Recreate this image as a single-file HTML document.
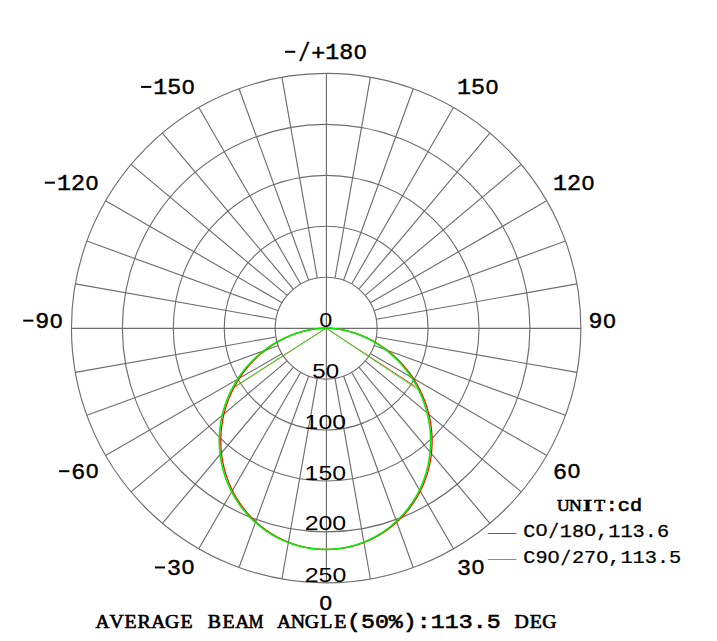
<!DOCTYPE html><html><head><meta charset="utf-8"><style>html,body{margin:0;padding:0;background:#fff;overflow:hidden}svg{display:block}</style></head><body>
<svg width="717" height="641" viewBox="0 0 717 641">
<rect width="717" height="641" fill="#fff"/>
<g fill="none" stroke="#6e6e6e" stroke-width="1.15"><circle cx="326.15" cy="328.15" r="50.94"/><circle cx="326.15" cy="328.15" r="101.88"/><circle cx="326.15" cy="328.15" r="152.82"/><circle cx="326.15" cy="328.15" r="203.76"/><circle cx="326.15" cy="328.15" r="254.70"/><line x1="326.40" y1="582.85" x2="326.40" y2="73.45"/><line x1="335.00" y1="378.32" x2="370.38" y2="578.98"/><line x1="343.57" y1="376.02" x2="413.26" y2="567.49"/><line x1="351.62" y1="372.27" x2="453.50" y2="548.73"/><line x1="358.89" y1="367.17" x2="489.87" y2="523.26"/><line x1="365.17" y1="360.89" x2="521.26" y2="491.87"/><line x1="370.27" y1="353.62" x2="546.73" y2="455.50"/><line x1="374.02" y1="345.57" x2="565.49" y2="415.26"/><line x1="376.32" y1="337.00" x2="576.98" y2="372.38"/><line x1="71.45" y1="328.30" x2="580.85" y2="328.30"/><line x1="376.32" y1="319.30" x2="576.98" y2="283.92"/><line x1="374.02" y1="310.73" x2="565.49" y2="241.04"/><line x1="370.27" y1="302.68" x2="546.73" y2="200.80"/><line x1="365.17" y1="295.41" x2="521.26" y2="164.43"/><line x1="358.89" y1="289.13" x2="489.87" y2="133.04"/><line x1="351.62" y1="284.03" x2="453.50" y2="107.57"/><line x1="343.57" y1="280.28" x2="413.26" y2="88.81"/><line x1="335.00" y1="277.98" x2="370.38" y2="77.32"/><line x1="317.30" y1="277.98" x2="281.92" y2="77.32"/><line x1="308.73" y1="280.28" x2="239.04" y2="88.81"/><line x1="300.68" y1="284.03" x2="198.80" y2="107.57"/><line x1="293.41" y1="289.13" x2="162.43" y2="133.04"/><line x1="287.13" y1="295.41" x2="131.04" y2="164.43"/><line x1="282.03" y1="302.68" x2="105.57" y2="200.80"/><line x1="278.28" y1="310.73" x2="86.81" y2="241.04"/><line x1="275.98" y1="319.30" x2="75.32" y2="283.92"/><line x1="275.98" y1="337.00" x2="75.32" y2="372.38"/><line x1="278.28" y1="345.57" x2="86.81" y2="415.26"/><line x1="282.03" y1="353.62" x2="105.57" y2="455.50"/><line x1="287.13" y1="360.89" x2="131.04" y2="491.87"/><line x1="293.41" y1="367.17" x2="162.43" y2="523.26"/><line x1="300.68" y1="372.27" x2="198.80" y2="548.73"/><line x1="308.73" y1="376.02" x2="239.04" y2="567.49"/><line x1="317.30" y1="378.32" x2="281.92" y2="578.98"/></g>
<path d="M326.15 328.15 L325.99 328.15 L325.80 328.15 L325.60 328.15 L325.38 328.16 L325.16 328.16 L324.93 328.16 L324.70 328.17 L324.46 328.17 L324.21 328.18 L323.97 328.19 L323.72 328.20 L323.46 328.21 L323.21 328.22 L322.95 328.23 L322.69 328.24 L322.42 328.25 L322.16 328.27 L321.89 328.28 L321.62 328.30 L321.34 328.32 L321.07 328.34 L320.79 328.36 L320.52 328.38 L320.24 328.40 L319.95 328.42 L319.67 328.44 L319.39 328.47 L319.10 328.49 L318.82 328.52 L318.53 328.55 L318.24 328.58 L317.95 328.61 L317.66 328.64 L317.36 328.67 L317.07 328.71 L316.77 328.74 L316.48 328.78 L316.18 328.81 L315.88 328.85 L315.58 328.89 L315.29 328.93 L314.98 328.97 L314.68 329.01 L314.38 329.06 L314.08 329.10 L313.77 329.15 L313.47 329.19 L313.16 329.24 L312.86 329.29 L312.55 329.34 L312.24 329.39 L311.93 329.44 L311.63 329.50 L311.32 329.55 L311.01 329.61 L310.70 329.67 L310.38 329.72 L310.07 329.78 L309.76 329.84 L309.45 329.91 L309.13 329.97 L308.82 330.03 L308.51 330.10 L308.19 330.16 L307.88 330.23 L307.56 330.30 L307.24 330.37 L306.93 330.44 L306.61 330.51 L306.29 330.59 L305.97 330.66 L305.66 330.74 L305.34 330.82 L305.02 330.89 L304.70 330.97 L304.38 331.05 L304.06 331.14 L303.74 331.22 L303.42 331.30 L303.10 331.39 L302.78 331.48 L302.46 331.56 L302.14 331.65 L301.82 331.74 L301.49 331.83 L301.17 331.93 L300.85 332.02 L300.53 332.12 L300.21 332.21 L299.88 332.31 L299.56 332.41 L299.24 332.51 L298.91 332.61 L298.59 332.71 L298.27 332.82 L297.94 332.92 L297.62 333.03 L297.30 333.13 L296.97 333.24 L296.65 333.35 L296.32 333.46 L296.00 333.57 L295.68 333.69 L295.35 333.80 L295.03 333.92 L294.70 334.03 L294.38 334.15 L294.06 334.27 L293.73 334.39 L293.41 334.51 L293.08 334.64 L292.76 334.76 L292.44 334.89 L292.11 335.01 L291.79 335.14 L291.46 335.27 L291.14 335.40 L290.82 335.53 L290.49 335.66 L290.17 335.80 L289.85 335.93 L289.52 336.07 L289.20 336.21 L288.88 336.35 L288.55 336.48 L288.23 336.63 L287.91 336.77 L287.59 336.91 L287.26 337.06 L286.94 337.20 L286.62 337.35 L286.30 337.50 L285.97 337.65 L285.65 337.80 L285.33 337.95 L285.01 338.10 L284.69 338.26 L284.37 338.41 L284.05 338.57 L283.73 338.73 L283.41 338.89 L283.09 339.05 L282.77 339.21 L282.45 339.37 L282.13 339.53 L281.81 339.70 L281.49 339.87 L281.18 340.03 L280.86 340.20 L280.54 340.37 L280.22 340.54 L279.91 340.71 L279.59 340.89 L279.27 341.06 L278.96 341.24 L278.64 341.41 L278.33 341.59 L278.01 341.77 L277.70 341.95 L277.38 342.13 L277.07 342.32 L276.75 342.50 L276.44 342.69 L276.13 342.87 L275.82 343.06 L275.50 343.25 L275.19 343.44 L274.88 343.63 L274.57 343.82 L274.26 344.01 L273.95 344.21 L273.64 344.40 L273.33 344.60 L273.02 344.80 L272.72 345.00 L272.41 345.20 L272.10 345.40 L271.79 345.60 L271.49 345.81 L271.18 346.01 L270.88 346.22 L270.57 346.42 L270.27 346.63 L269.96 346.84 L269.66 347.05 L269.36 347.26 L269.06 347.48 L268.75 347.69 L268.45 347.90 L268.15 348.12 L267.85 348.34 L267.55 348.56 L267.25 348.78 L266.95 349.00 L266.66 349.22 L266.36 349.44 L266.06 349.66 L265.77 349.89 L265.47 350.12 L265.18 350.34 L264.88 350.57 L264.59 350.80 L264.29 351.03 L264.00 351.26 L263.71 351.50 L263.42 351.73 L263.13 351.96 L262.84 352.20 L262.55 352.44 L262.26 352.68 L261.97 352.91 L261.68 353.16 L261.40 353.40 L261.11 353.64 L260.82 353.88 L260.54 354.13 L260.25 354.37 L259.97 354.62 L259.69 354.87 L259.41 355.12 L259.12 355.37 L258.84 355.62 L258.56 355.87 L258.28 356.12 L258.01 356.38 L257.73 356.63 L257.45 356.89 L257.17 357.14 L256.90 357.40 L256.62 357.66 L256.35 357.92 L256.08 358.18 L255.80 358.45 L255.53 358.71 L255.26 358.97 L254.99 359.24 L254.72 359.51 L254.45 359.77 L254.18 360.04 L253.92 360.31 L253.65 360.58 L253.38 360.85 L253.12 361.12 L252.86 361.40 L252.59 361.67 L252.33 361.95 L252.07 362.22 L251.81 362.50 L251.55 362.78 L251.29 363.06 L251.03 363.34 L250.77 363.62 L250.52 363.90 L250.26 364.19 L250.01 364.47 L249.75 364.75 L249.50 365.04 L249.25 365.33 L248.99 365.61 L248.74 365.90 L248.49 366.19 L248.25 366.48 L248.00 366.78 L247.75 367.07 L247.50 367.36 L247.26 367.66 L247.01 367.95 L246.77 368.25 L246.53 368.54 L246.29 368.84 L246.05 369.14 L245.81 369.44 L245.57 369.74 L245.33 370.04 L245.09 370.35 L244.86 370.65 L244.62 370.95 L244.39 371.26 L244.16 371.56 L243.92 371.87 L243.69 372.18 L243.46 372.49 L243.23 372.80 L243.00 373.11 L242.78 373.42 L242.55 373.73 L242.33 374.04 L242.10 374.36 L241.88 374.67 L241.66 374.99 L241.43 375.30 L241.21 375.62 L240.99 375.94 L240.78 376.26 L240.56 376.58 L240.34 376.90 L240.13 377.22 L239.91 377.54 L239.70 377.86 L239.49 378.18 L239.28 378.51 L239.07 378.83 L238.86 379.16 L238.65 379.49 L238.44 379.81 L238.24 380.14 L238.03 380.47 L237.83 380.80 L237.63 381.13 L237.42 381.46 L237.22 381.79 L237.02 382.13 L236.83 382.46 L236.63 382.79 L236.43 383.13 L236.24 383.47 L236.04 383.80 L235.85 384.14 L235.66 384.48 L235.47 384.81 L235.28 385.15 L235.09 385.49 L234.90 385.83 L234.72 386.18 L234.53 386.52 L234.35 386.86 L234.16 387.20 L233.98 387.55 L233.80 387.89 L233.62 388.24 L233.44 388.59 L233.27 388.93 L233.09 389.28 L232.91 389.63 L232.74 389.98 L232.57 390.33 L232.40 390.68 L232.23 391.03 L232.06 391.38 L231.89 391.73 L231.72 392.08 L231.56 392.44 L231.39 392.79 L231.23 393.14 L231.07 393.50 L230.91 393.86 L230.75 394.21 L230.59 394.57 L230.43 394.93 L230.27 395.28 L230.12 395.64 L229.96 396.00 L229.81 396.36 L229.66 396.72 L229.51 397.08 L229.36 397.44 L229.21 397.81 L229.07 398.17 L228.92 398.53 L228.78 398.90 L228.63 399.26 L228.49 399.63 L228.35 399.99 L228.21 400.36 L228.07 400.72 L227.94 401.09 L227.80 401.46 L227.67 401.82 L227.53 402.19 L227.40 402.56 L227.27 402.93 L227.14 403.30 L227.01 403.67 L226.89 404.04 L226.76 404.41 L226.64 404.79 L226.51 405.16 L226.39 405.53 L226.27 405.90 L226.15 406.28 L226.03 406.65 L225.92 407.03 L225.80 407.40 L225.69 407.78 L225.57 408.15 L225.46 408.53 L225.35 408.90 L225.24 409.28 L225.13 409.66 L225.03 410.04 L224.92 410.42 L224.82 410.79 L224.72 411.17 L224.61 411.55 L224.51 411.93 L224.42 412.31 L224.32 412.69 L224.22 413.07 L224.13 413.46 L224.03 413.84 L223.94 414.22 L223.85 414.60 L223.76 414.98 L223.67 415.37 L223.58 415.75 L223.50 416.13 L223.41 416.52 L223.33 416.90 L223.25 417.29 L223.17 417.67 L223.09 418.06 L223.01 418.44 L222.93 418.83 L222.86 419.21 L222.78 419.60 L222.71 419.99 L222.64 420.37 L222.57 420.76 L222.50 421.15 L222.43 421.54 L222.37 421.92 L222.30 422.31 L222.24 422.70 L222.18 423.09 L222.12 423.48 L222.06 423.87 L222.00 424.26 L221.94 424.65 L221.89 425.04 L221.83 425.43 L221.78 425.82 L221.73 426.21 L221.68 426.60 L221.63 426.99 L221.58 427.38 L221.54 427.77 L221.49 428.16 L221.45 428.55 L221.41 428.94 L221.37 429.34 L221.33 429.73 L221.29 430.12 L221.26 430.51 L221.22 430.90 L221.19 431.30 L221.15 431.69 L221.12 432.08 L221.09 432.48 L221.07 432.87 L221.04 433.26 L221.01 433.65 L220.99 434.05 L220.97 434.44 L220.94 434.83 L220.92 435.23 L220.91 435.62 L220.89 436.02 L220.87 436.41 L220.86 436.80 L220.84 437.20 L220.83 437.59 L220.82 437.98 L220.81 438.38 L220.81 438.77 L220.80 439.17 L220.79 439.56 L220.79 439.95 L220.79 440.35 L220.79 440.74 L220.79 441.14 L220.79 441.53 L220.79 441.93 L220.80 442.32 L220.80 442.71 L220.81 443.11 L220.82 443.50 L220.83 443.90 L220.84 444.29 L220.85 444.68 L220.87 445.08 L220.88 445.47 L220.90 445.86 L220.92 446.26 L220.94 446.65 L220.96 447.05 L220.98 447.44 L221.01 447.83 L221.03 448.23 L221.06 448.62 L221.09 449.01 L221.12 449.40 L221.15 449.80 L221.18 450.19 L221.21 450.58 L221.25 450.98 L221.28 451.37 L221.32 451.76 L221.36 452.15 L221.40 452.54 L221.44 452.94 L221.48 453.33 L221.53 453.72 L221.58 454.11 L221.62 454.50 L221.67 454.89 L221.72 455.28 L221.77 455.67 L221.83 456.06 L221.88 456.46 L221.93 456.85 L221.99 457.24 L222.05 457.62 L222.11 458.01 L222.17 458.40 L222.23 458.79 L222.30 459.18 L222.36 459.57 L222.43 459.96 L222.50 460.35 L222.56 460.73 L222.63 461.12 L222.71 461.51 L222.78 461.90 L222.85 462.28 L222.93 462.67 L223.01 463.05 L223.09 463.44 L223.17 463.83 L223.25 464.21 L223.33 464.60 L223.41 464.98 L223.50 465.36 L223.59 465.75 L223.68 466.13 L223.76 466.52 L223.86 466.90 L223.95 467.28 L224.04 467.66 L224.14 468.05 L224.23 468.43 L224.33 468.81 L224.43 469.19 L224.53 469.57 L224.63 469.95 L224.73 470.33 L224.84 470.71 L224.94 471.09 L225.05 471.47 L225.16 471.85 L225.27 472.22 L225.38 472.60 L225.49 472.98 L225.61 473.35 L225.72 473.73 L225.84 474.11 L225.95 474.48 L226.07 474.86 L226.19 475.23 L226.32 475.60 L226.44 475.98 L226.56 476.35 L226.69 476.72 L226.82 477.10 L226.94 477.47 L227.07 477.84 L227.20 478.21 L227.34 478.58 L227.47 478.95 L227.60 479.32 L227.74 479.69 L227.88 480.06 L228.02 480.42 L228.16 480.79 L228.30 481.16 L228.44 481.52 L228.58 481.89 L228.73 482.25 L228.88 482.62 L229.02 482.98 L229.17 483.35 L229.32 483.71 L229.47 484.07 L229.63 484.43 L229.78 484.79 L229.94 485.15 L230.09 485.51 L230.25 485.87 L230.41 486.23 L230.57 486.59 L230.73 486.95 L230.90 487.31 L231.06 487.66 L231.23 488.02 L231.39 488.37 L231.56 488.73 L231.73 489.08 L231.90 489.43 L232.07 489.79 L232.25 490.14 L232.42 490.49 L232.60 490.84 L232.78 491.19 L232.95 491.54 L233.13 491.89 L233.31 492.24 L233.50 492.59 L233.68 492.93 L233.86 493.28 L234.05 493.62 L234.24 493.97 L234.42 494.31 L234.61 494.66 L234.80 495.00 L235.00 495.34 L235.19 495.68 L235.38 496.02 L235.58 496.36 L235.77 496.70 L235.97 497.04 L236.17 497.38 L236.37 497.71 L236.57 498.05 L236.78 498.38 L236.98 498.72 L237.18 499.05 L237.39 499.38 L237.60 499.72 L237.81 500.05 L238.02 500.38 L238.23 500.71 L238.44 501.04 L238.65 501.37 L238.87 501.69 L239.08 502.02 L239.30 502.35 L239.52 502.67 L239.74 503.00 L239.96 503.32 L240.18 503.64 L240.40 503.96 L240.62 504.28 L240.85 504.60 L241.07 504.92 L241.30 505.24 L241.53 505.56 L241.76 505.88 L241.99 506.19 L242.22 506.51 L242.45 506.82 L242.69 507.14 L242.92 507.45 L243.16 507.76 L243.40 508.07 L243.63 508.38 L243.87 508.69 L244.11 509.00 L244.36 509.30 L244.60 509.61 L244.84 509.91 L245.09 510.22 L245.33 510.52 L245.58 510.83 L245.83 511.13 L246.08 511.43 L246.33 511.73 L246.58 512.03 L246.83 512.32 L247.09 512.62 L247.34 512.92 L247.60 513.21 L247.85 513.51 L248.11 513.80 L248.37 514.09 L248.63 514.38 L248.89 514.67 L249.15 514.96 L249.41 515.25 L249.68 515.54 L249.94 515.82 L250.21 516.11 L250.48 516.39 L250.74 516.68 L251.01 516.96 L251.28 517.24 L251.55 517.52 L251.83 517.80 L252.10 518.08 L252.37 518.36 L252.65 518.63 L252.92 518.91 L253.20 519.18 L253.48 519.46 L253.76 519.73 L254.04 520.00 L254.32 520.27 L254.60 520.54 L254.88 520.81 L255.17 521.07 L255.45 521.34 L255.74 521.60 L256.03 521.87 L256.31 522.13 L256.60 522.39 L256.89 522.65 L257.18 522.91 L257.47 523.17 L257.76 523.43 L258.06 523.68 L258.35 523.94 L258.65 524.19 L258.94 524.44 L259.24 524.70 L259.54 524.95 L259.84 525.20 L260.14 525.45 L260.44 525.69 L260.74 525.94 L261.04 526.18 L261.34 526.43 L261.65 526.67 L261.95 526.91 L262.26 527.15 L262.56 527.39 L262.87 527.63 L263.18 527.87 L263.49 528.10 L263.80 528.34 L264.11 528.57 L264.42 528.80 L264.73 529.04 L265.05 529.27 L265.36 529.49 L265.68 529.72 L265.99 529.95 L266.31 530.17 L266.62 530.40 L266.94 530.62 L267.26 530.84 L267.58 531.06 L267.90 531.28 L268.22 531.50 L268.55 531.72 L268.87 531.94 L269.19 532.15 L269.52 532.36 L269.84 532.58 L270.17 532.79 L270.49 533.00 L270.82 533.21 L271.15 533.41 L271.48 533.62 L271.81 533.82 L272.14 534.03 L272.47 534.23 L272.80 534.43 L273.13 534.63 L273.47 534.83 L273.80 535.03 L274.14 535.22 L274.47 535.42 L274.81 535.61 L275.14 535.81 L275.48 536.00 L275.82 536.19 L276.16 536.38 L276.50 536.56 L276.84 536.75 L277.18 536.93 L277.52 537.12 L277.86 537.30 L278.21 537.48 L278.55 537.66 L278.89 537.84 L279.24 538.02 L279.58 538.19 L279.93 538.37 L280.28 538.54 L280.62 538.71 L280.97 538.88 L281.32 539.05 L281.67 539.22 L282.02 539.39 L282.37 539.56 L282.72 539.72 L283.07 539.88 L283.42 540.04 L283.78 540.20 L284.13 540.36 L284.48 540.52 L284.84 540.68 L285.19 540.83 L285.55 540.99 L285.91 541.14 L286.26 541.29 L286.62 541.44 L286.98 541.59 L287.33 541.74 L287.69 541.88 L288.05 542.03 L288.41 542.17 L288.77 542.31 L289.13 542.45 L289.50 542.59 L289.86 542.73 L290.22 542.86 L290.58 543.00 L290.95 543.13 L291.31 543.26 L291.67 543.40 L292.04 543.53 L292.40 543.65 L292.77 543.78 L293.13 543.91 L293.50 544.03 L293.87 544.15 L294.24 544.27 L294.60 544.39 L294.97 544.51 L295.34 544.63 L295.71 544.75 L296.08 544.86 L296.45 544.97 L296.82 545.09 L297.19 545.20 L297.56 545.30 L297.93 545.41 L298.30 545.52 L298.68 545.62 L299.05 545.73 L299.42 545.83 L299.80 545.93 L300.17 546.03 L300.54 546.13 L300.92 546.22 L301.29 546.32 L301.67 546.41 L302.04 546.50 L302.42 546.59 L302.80 546.68 L303.17 546.77 L303.55 546.86 L303.93 546.94 L304.30 547.03 L304.68 547.11 L305.06 547.19 L305.44 547.27 L305.82 547.35 L306.19 547.43 L306.57 547.50 L306.95 547.58 L307.33 547.65 L307.71 547.72 L308.09 547.79 L308.47 547.86 L308.85 547.92 L309.23 547.99 L309.62 548.05 L310.00 548.12 L310.38 548.18 L310.76 548.24 L311.14 548.29 L311.52 548.35 L311.91 548.41 L312.29 548.46 L312.67 548.51 L313.05 548.56 L313.44 548.61 L313.82 548.66 L314.20 548.71 L314.59 548.76 L314.97 548.80 L315.36 548.84 L315.74 548.88 L316.12 548.92 L316.51 548.96 L316.89 549.00 L317.28 549.03 L317.66 549.07 L318.05 549.10 L318.43 549.13 L318.82 549.16 L319.20 549.19 L319.59 549.22 L319.97 549.24 L320.36 549.26 L320.75 549.29 L321.13 549.31 L321.52 549.33 L321.90 549.35 L322.29 549.36 L322.67 549.38 L323.06 549.39 L323.45 549.40 L323.83 549.41 L324.22 549.42 L324.61 549.43 L324.99 549.44 L325.38 549.44 L325.76 549.45 L326.15 549.45 L326.54 549.45 L326.92 549.45 L327.31 549.45 L327.69 549.44 L328.08 549.44 L328.47 549.43 L328.85 549.43 L329.24 549.42 L329.63 549.41 L330.01 549.39 L330.40 549.38 L330.78 549.36 L331.17 549.35 L331.56 549.33 L331.94 549.31 L332.33 549.29 L332.71 549.27 L333.10 549.24 L333.48 549.22 L333.87 549.19 L334.25 549.16 L334.64 549.14 L335.02 549.10 L335.41 549.07 L335.79 549.04 L336.18 549.00 L336.56 548.97 L336.95 548.93 L337.33 548.89 L337.72 548.85 L338.10 548.81 L338.48 548.76 L338.87 548.72 L339.25 548.67 L339.63 548.62 L340.02 548.57 L340.40 548.52 L340.78 548.47 L341.17 548.41 L341.55 548.36 L341.93 548.30 L342.31 548.24 L342.69 548.19 L343.08 548.12 L343.46 548.06 L343.84 548.00 L344.22 547.93 L344.60 547.87 L344.98 547.80 L345.36 547.73 L345.74 547.66 L346.12 547.59 L346.50 547.51 L346.88 547.44 L347.26 547.36 L347.64 547.28 L348.01 547.20 L348.39 547.12 L348.77 547.04 L349.15 546.96 L349.52 546.87 L349.90 546.78 L350.28 546.70 L350.65 546.61 L351.03 546.52 L351.41 546.42 L351.78 546.33 L352.16 546.24 L352.53 546.14 L352.90 546.04 L353.28 545.94 L353.65 545.84 L354.02 545.74 L354.40 545.64 L354.77 545.53 L355.14 545.43 L355.51 545.32 L355.88 545.21 L356.25 545.10 L356.62 544.99 L356.99 544.87 L357.36 544.76 L357.73 544.64 L358.10 544.53 L358.47 544.41 L358.84 544.29 L359.21 544.17 L359.57 544.04 L359.94 543.92 L360.30 543.80 L360.67 543.67 L361.04 543.54 L361.40 543.41 L361.76 543.28 L362.13 543.15 L362.49 543.01 L362.85 542.88 L363.22 542.74 L363.58 542.61 L363.94 542.47 L364.30 542.33 L364.66 542.18 L365.02 542.04 L365.38 541.90 L365.74 541.75 L366.10 541.60 L366.45 541.46 L366.81 541.31 L367.17 541.15 L367.52 541.00 L367.88 540.85 L368.23 540.69 L368.59 540.54 L368.94 540.38 L369.30 540.22 L369.65 540.06 L370.00 539.90 L370.35 539.74 L370.70 539.57 L371.05 539.41 L371.40 539.24 L371.75 539.07 L372.10 538.90 L372.45 538.73 L372.80 538.56 L373.14 538.38 L373.49 538.21 L373.83 538.03 L374.18 537.86 L374.52 537.68 L374.87 537.50 L375.21 537.32 L375.55 537.13 L375.89 536.95 L376.23 536.77 L376.57 536.58 L376.91 536.39 L377.25 536.20 L377.59 536.01 L377.93 535.82 L378.27 535.63 L378.60 535.43 L378.94 535.24 L379.27 535.04 L379.61 534.85 L379.94 534.65 L380.27 534.45 L380.60 534.25 L380.93 534.04 L381.26 533.84 L381.59 533.63 L381.92 533.43 L382.25 533.22 L382.58 533.01 L382.90 532.80 L383.23 532.59 L383.56 532.38 L383.88 532.16 L384.20 531.95 L384.53 531.73 L384.85 531.52 L385.17 531.30 L385.49 531.08 L385.81 530.86 L386.13 530.63 L386.45 530.41 L386.76 530.19 L387.08 529.96 L387.40 529.73 L387.71 529.51 L388.02 529.28 L388.34 529.05 L388.65 528.82 L388.96 528.58 L389.27 528.35 L389.58 528.11 L389.89 527.88 L390.20 527.64 L390.51 527.40 L390.81 527.16 L391.12 526.92 L391.42 526.68 L391.73 526.44 L392.03 526.19 L392.33 525.95 L392.63 525.70 L392.93 525.45 L393.23 525.20 L393.53 524.95 L393.83 524.70 L394.13 524.45 L394.42 524.20 L394.72 523.94 L395.01 523.69 L395.30 523.43 L395.60 523.17 L395.89 522.92 L396.18 522.66 L396.47 522.40 L396.75 522.13 L397.04 521.87 L397.33 521.61 L397.61 521.34 L397.90 521.08 L398.18 520.81 L398.46 520.54 L398.75 520.27 L399.03 520.00 L399.31 519.73 L399.59 519.46 L399.86 519.18 L400.14 518.91 L400.42 518.63 L400.69 518.36 L400.96 518.08 L401.24 517.80 L401.51 517.52 L401.78 517.24 L402.05 516.96 L402.32 516.67 L402.59 516.39 L402.85 516.11 L403.12 515.82 L403.38 515.53 L403.65 515.25 L403.91 514.96 L404.17 514.67 L404.43 514.38 L404.69 514.08 L404.95 513.79 L405.21 513.50 L405.46 513.20 L405.72 512.91 L405.97 512.61 L406.23 512.31 L406.48 512.02 L406.73 511.72 L406.98 511.42 L407.23 511.11 L407.48 510.81 L407.72 510.51 L407.97 510.21 L408.21 509.90 L408.46 509.59 L408.70 509.29 L408.94 508.98 L409.18 508.67 L409.42 508.36 L409.66 508.05 L409.89 507.74 L410.13 507.43 L410.37 507.12 L410.60 506.80 L410.83 506.49 L411.06 506.17 L411.29 505.86 L411.52 505.54 L411.75 505.22 L411.98 504.90 L412.20 504.58 L412.43 504.26 L412.65 503.94 L412.87 503.62 L413.09 503.29 L413.31 502.97 L413.53 502.64 L413.75 502.32 L413.96 501.99 L414.18 501.66 L414.39 501.34 L414.61 501.01 L414.82 500.68 L415.03 500.35 L415.24 500.02 L415.45 499.68 L415.65 499.35 L415.86 499.02 L416.06 498.68 L416.27 498.35 L416.47 498.01 L416.67 497.68 L416.87 497.34 L417.07 497.00 L417.26 496.66 L417.46 496.32 L417.65 495.98 L417.85 495.64 L418.04 495.30 L418.23 494.96 L418.42 494.61 L418.61 494.27 L418.80 493.92 L418.98 493.58 L419.17 493.23 L419.35 492.89 L419.54 492.54 L419.72 492.19 L419.90 491.84 L420.08 491.49 L420.25 491.14 L420.43 490.79 L420.60 490.44 L420.78 490.09 L420.95 489.73 L421.12 489.38 L421.29 489.03 L421.46 488.67 L421.63 488.32 L421.79 487.96 L421.96 487.60 L422.12 487.25 L422.29 486.89 L422.45 486.53 L422.61 486.17 L422.77 485.81 L422.92 485.45 L423.08 485.09 L423.23 484.73 L423.39 484.37 L423.54 484.01 L423.69 483.64 L423.84 483.28 L423.99 482.91 L424.13 482.55 L424.28 482.18 L424.42 481.82 L424.57 481.45 L424.71 481.08 L424.85 480.72 L424.99 480.35 L425.13 479.98 L425.26 479.61 L425.40 479.24 L425.53 478.87 L425.67 478.50 L425.80 478.13 L425.93 477.76 L426.06 477.39 L426.18 477.01 L426.31 476.64 L426.43 476.27 L426.56 475.89 L426.68 475.52 L426.80 475.14 L426.92 474.77 L427.04 474.39 L427.15 474.02 L427.27 473.64 L427.38 473.26 L427.50 472.89 L427.61 472.51 L427.72 472.13 L427.83 471.75 L427.93 471.37 L428.04 470.99 L428.14 470.61 L428.25 470.23 L428.35 469.85 L428.45 469.47 L428.55 469.09 L428.65 468.71 L428.74 468.32 L428.84 467.94 L428.93 467.56 L429.02 467.18 L429.11 466.79 L429.20 466.41 L429.29 466.02 L429.38 465.64 L429.47 465.25 L429.55 464.87 L429.63 464.48 L429.71 464.10 L429.79 463.71 L429.87 463.32 L429.95 462.94 L430.03 462.55 L430.10 462.16 L430.18 461.78 L430.25 461.39 L430.32 461.00 L430.39 460.61 L430.45 460.22 L430.52 459.83 L430.59 459.44 L430.65 459.05 L430.71 458.67 L430.77 458.28 L430.83 457.89 L430.89 457.49 L430.95 457.10 L431.00 456.71 L431.06 456.32 L431.11 455.93 L431.16 455.54 L431.21 455.15 L431.26 454.76 L431.31 454.36 L431.35 453.97 L431.40 453.58 L431.44 453.19 L431.48 452.79 L431.52 452.40 L431.56 452.01 L431.60 451.62 L431.64 451.22 L431.67 450.83 L431.70 450.44 L431.74 450.04 L431.77 449.65 L431.80 449.25 L431.82 448.86 L431.85 448.47 L431.88 448.07 L431.90 447.68 L431.92 447.28 L431.94 446.89 L431.96 446.49 L431.98 446.10 L432.00 445.70 L432.01 445.31 L432.03 444.91 L432.04 444.52 L432.05 444.13 L432.06 443.73 L432.07 443.34 L432.08 442.94 L432.08 442.55 L432.09 442.15 L432.09 441.75 L432.09 441.36 L432.09 440.96 L432.09 440.57 L432.09 440.17 L432.08 439.78 L432.08 439.38 L432.07 438.99 L432.06 438.59 L432.05 438.20 L432.04 437.80 L432.03 437.41 L432.02 437.01 L432.00 436.62 L431.98 436.22 L431.97 435.83 L431.95 435.44 L431.93 435.04 L431.91 434.65 L431.88 434.25 L431.86 433.86 L431.83 433.46 L431.80 433.07 L431.78 432.68 L431.75 432.28 L431.71 431.89 L431.68 431.49 L431.65 431.10 L431.61 430.71 L431.57 430.31 L431.54 429.92 L431.50 429.53 L431.46 429.13 L431.41 428.74 L431.37 428.35 L431.32 427.96 L431.28 427.56 L431.23 427.17 L431.18 426.78 L431.13 426.39 L431.08 426.00 L431.02 425.61 L430.97 425.21 L430.91 424.82 L430.86 424.43 L430.80 424.04 L430.74 423.65 L430.68 423.26 L430.61 422.87 L430.55 422.48 L430.48 422.09 L430.42 421.70 L430.35 421.31 L430.28 420.93 L430.21 420.54 L430.14 420.15 L430.06 419.76 L429.99 419.37 L429.91 418.99 L429.83 418.60 L429.76 418.21 L429.68 417.83 L429.59 417.44 L429.51 417.06 L429.43 416.67 L429.34 416.28 L429.26 415.90 L429.17 415.51 L429.08 415.13 L428.99 414.75 L428.90 414.36 L428.80 413.98 L428.71 413.60 L428.61 413.21 L428.51 412.83 L428.42 412.45 L428.32 412.07 L428.21 411.69 L428.11 411.31 L428.01 410.93 L427.90 410.55 L427.80 410.17 L427.69 409.79 L427.58 409.41 L427.47 409.03 L427.36 408.65 L427.24 408.28 L427.13 407.90 L427.02 407.52 L426.90 407.15 L426.78 406.77 L426.66 406.40 L426.54 406.02 L426.42 405.65 L426.30 405.27 L426.17 404.90 L426.05 404.53 L425.92 404.15 L425.79 403.78 L425.66 403.41 L425.53 403.04 L425.40 402.67 L425.27 402.30 L425.13 401.93 L425.00 401.56 L424.86 401.19 L424.72 400.82 L424.58 400.46 L424.44 400.09 L424.30 399.72 L424.16 399.36 L424.01 398.99 L423.87 398.62 L423.72 398.26 L423.57 397.90 L423.42 397.53 L423.27 397.17 L423.12 396.81 L422.97 396.45 L422.81 396.09 L422.66 395.73 L422.50 395.37 L422.34 395.01 L422.18 394.65 L422.02 394.29 L421.86 393.93 L421.70 393.57 L421.54 393.22 L421.37 392.86 L421.21 392.51 L421.04 392.15 L420.87 391.80 L420.70 391.45 L420.53 391.09 L420.36 390.74 L420.18 390.39 L420.01 390.04 L419.84 389.69 L419.66 389.34 L419.48 388.99 L419.30 388.64 L419.12 388.30 L418.94 387.95 L418.76 387.60 L418.57 387.26 L418.39 386.91 L418.20 386.57 L418.02 386.23 L417.83 385.88 L417.64 385.54 L417.45 385.20 L417.26 384.86 L417.07 384.52 L416.87 384.18 L416.68 383.84 L416.48 383.51 L416.29 383.17 L416.09 382.83 L415.89 382.50 L415.69 382.16 L415.49 381.83 L415.28 381.50 L415.08 381.16 L414.88 380.83 L414.67 380.50 L414.46 380.17 L414.26 379.84 L414.05 379.51 L413.84 379.19 L413.63 378.86 L413.41 378.53 L413.20 378.21 L412.99 377.88 L412.77 377.56 L412.56 377.24 L412.34 376.91 L412.12 376.59 L411.90 376.27 L411.68 375.95 L411.46 375.63 L411.24 375.32 L411.01 375.00 L410.79 374.68 L410.57 374.37 L410.34 374.05 L410.11 373.74 L409.88 373.42 L409.65 373.11 L409.42 372.80 L409.19 372.49 L408.96 372.18 L408.73 371.87 L408.49 371.56 L408.26 371.26 L408.02 370.95 L407.78 370.65 L407.55 370.34 L407.31 370.04 L407.07 369.74 L406.83 369.43 L406.58 369.13 L406.34 368.83 L406.10 368.53 L405.85 368.24 L405.61 367.94 L405.36 367.64 L405.11 367.35 L404.87 367.05 L404.62 366.76 L404.37 366.47 L404.12 366.18 L403.86 365.89 L403.61 365.60 L403.36 365.31 L403.10 365.02 L402.85 364.73 L402.59 364.45 L402.33 364.16 L402.08 363.88 L401.82 363.59 L401.56 363.31 L401.30 363.03 L401.03 362.75 L400.77 362.47 L400.51 362.19 L400.25 361.92 L399.98 361.64 L399.72 361.37 L399.45 361.09 L399.18 360.82 L398.91 360.55 L398.64 360.28 L398.37 360.00 L398.10 359.74 L397.83 359.47 L397.56 359.20 L397.29 358.93 L397.01 358.67 L396.74 358.41 L396.47 358.14 L396.19 357.88 L395.91 357.62 L395.64 357.36 L395.36 357.10 L395.08 356.84 L394.80 356.59 L394.52 356.33 L394.24 356.07 L393.96 355.82 L393.67 355.57 L393.39 355.32 L393.11 355.07 L392.82 354.82 L392.54 354.57 L392.25 354.32 L391.96 354.07 L391.68 353.83 L391.39 353.59 L391.10 353.34 L390.81 353.10 L390.52 352.86 L390.23 352.62 L389.94 352.38 L389.65 352.14 L389.35 351.91 L389.06 351.67 L388.77 351.44 L388.47 351.20 L388.18 350.97 L387.88 350.74 L387.58 350.51 L387.29 350.28 L386.99 350.05 L386.69 349.83 L386.39 349.60 L386.09 349.38 L385.79 349.15 L385.49 348.93 L385.19 348.71 L384.89 348.49 L384.59 348.27 L384.29 348.05 L383.98 347.84 L383.68 347.62 L383.37 347.41 L383.07 347.20 L382.76 346.98 L382.46 346.77 L382.15 346.56 L381.85 346.35 L381.54 346.15 L381.23 345.94 L380.92 345.74 L380.61 345.53 L380.30 345.33 L379.99 345.13 L379.68 344.93 L379.37 344.73 L379.06 344.53 L378.75 344.33 L378.44 344.14 L378.13 343.94 L377.81 343.75 L377.50 343.56 L377.19 343.36 L376.87 343.17 L376.56 342.99 L376.24 342.80 L375.93 342.61 L375.61 342.43 L375.29 342.24 L374.98 342.06 L374.66 341.88 L374.34 341.70 L374.03 341.52 L373.71 341.34 L373.39 341.16 L373.07 340.99 L372.75 340.81 L372.43 340.64 L372.11 340.47 L371.79 340.29 L371.47 340.13 L371.15 339.96 L370.83 339.79 L370.51 339.62 L370.19 339.46 L369.87 339.29 L369.55 339.13 L369.22 338.97 L368.90 338.81 L368.58 338.65 L368.26 338.49 L367.93 338.34 L367.61 338.18 L367.29 338.03 L366.96 337.87 L366.64 337.72 L366.31 337.57 L365.99 337.42 L365.67 337.27 L365.34 337.13 L365.02 336.98 L364.69 336.84 L364.37 336.69 L364.04 336.55 L363.72 336.41 L363.39 336.27 L363.06 336.13 L362.74 335.99 L362.41 335.86 L362.09 335.72 L361.76 335.59 L361.43 335.46 L361.11 335.33 L360.78 335.20 L360.46 335.07 L360.13 334.94 L359.80 334.81 L359.48 334.69 L359.15 334.56 L358.82 334.44 L358.50 334.32 L358.17 334.20 L357.84 334.08 L357.52 333.96 L357.19 333.85 L356.86 333.73 L356.54 333.62 L356.21 333.50 L355.88 333.39 L355.56 333.28 L355.23 333.17 L354.91 333.07 L354.58 332.96 L354.25 332.85 L353.93 332.75 L353.60 332.65 L353.28 332.54 L352.95 332.44 L352.63 332.34 L352.30 332.25 L351.98 332.15 L351.65 332.05 L351.33 331.96 L351.00 331.86 L350.68 331.77 L350.35 331.68 L350.03 331.59 L349.71 331.50 L349.38 331.42 L349.06 331.33 L348.74 331.24 L348.41 331.16 L348.09 331.08 L347.77 331.00 L347.45 330.92 L347.13 330.84 L346.81 330.76 L346.49 330.68 L346.17 330.61 L345.85 330.53 L345.53 330.46 L345.21 330.39 L344.89 330.32 L344.57 330.25 L344.25 330.18 L343.94 330.11 L343.62 330.05 L343.30 329.98 L342.99 329.92 L342.67 329.86 L342.36 329.80 L342.04 329.74 L341.73 329.68 L341.41 329.62 L341.10 329.56 L340.79 329.51 L340.48 329.45 L340.17 329.40 L339.86 329.35 L339.55 329.30 L339.24 329.25 L338.93 329.20 L338.63 329.15 L338.32 329.11 L338.01 329.06 L337.71 329.02 L337.40 328.98 L337.10 328.94 L336.80 328.89 L336.50 328.86 L336.20 328.82 L335.90 328.78 L335.60 328.74 L335.30 328.71 L335.01 328.68 L334.71 328.64 L334.42 328.61 L334.12 328.58 L333.83 328.55 L333.54 328.52 L333.25 328.50 L332.97 328.47 L332.68 328.45 L332.40 328.42 L332.11 328.40 L331.83 328.38 L331.55 328.36 L331.27 328.34 L330.99 328.32 L330.72 328.30 L330.45 328.29 L330.18 328.27 L329.91 328.25 L329.64 328.24 L329.38 328.23 L329.12 328.22 L328.86 328.21 L328.60 328.20 L328.35 328.19 L328.10 328.18 L327.86 328.17 L327.61 328.17 L327.38 328.16 L327.15 328.16 L326.92 328.16 L326.71 328.15 L326.50 328.15 L326.31 328.15 L326.15 328.15" fill="none" stroke="#ff0000" stroke-width="1.25"/>
<path d="M326.15 328.15 L325.99 328.15 L325.79 328.15 L325.58 328.15 L325.36 328.16 L325.13 328.16 L324.89 328.16 L324.65 328.17 L324.40 328.17 L324.15 328.18 L323.90 328.19 L323.64 328.20 L323.38 328.21 L323.11 328.22 L322.84 328.23 L322.57 328.24 L322.30 328.26 L322.02 328.27 L321.75 328.29 L321.47 328.31 L321.19 328.32 L320.90 328.34 L320.62 328.36 L320.33 328.38 L320.04 328.41 L319.75 328.43 L319.46 328.45 L319.17 328.48 L318.87 328.51 L318.58 328.53 L318.28 328.56 L317.98 328.59 L317.68 328.62 L317.38 328.66 L317.08 328.69 L316.77 328.72 L316.47 328.76 L316.16 328.80 L315.86 328.83 L315.55 328.87 L315.24 328.91 L314.93 328.95 L314.62 329.00 L314.31 329.04 L314.00 329.09 L313.68 329.13 L313.37 329.18 L313.06 329.23 L312.74 329.28 L312.42 329.33 L312.11 329.38 L311.79 329.43 L311.47 329.49 L311.15 329.54 L310.83 329.60 L310.51 329.66 L310.19 329.71 L309.87 329.77 L309.55 329.84 L309.23 329.90 L308.91 329.96 L308.58 330.03 L308.26 330.09 L307.93 330.16 L307.61 330.23 L307.28 330.30 L306.96 330.37 L306.63 330.44 L306.31 330.52 L305.98 330.59 L305.65 330.67 L305.32 330.74 L305.00 330.82 L304.67 330.90 L304.34 330.98 L304.01 331.06 L303.68 331.15 L303.35 331.23 L303.02 331.32 L302.69 331.41 L302.36 331.49 L302.03 331.58 L301.70 331.67 L301.37 331.77 L301.04 331.86 L300.71 331.95 L300.37 332.05 L300.04 332.15 L299.71 332.24 L299.38 332.34 L299.05 332.44 L298.71 332.54 L298.38 332.65 L298.05 332.75 L297.71 332.86 L297.38 332.96 L297.05 333.07 L296.71 333.18 L296.38 333.29 L296.05 333.40 L295.71 333.52 L295.38 333.63 L295.05 333.75 L294.71 333.86 L294.38 333.98 L294.05 334.10 L293.71 334.22 L293.38 334.34 L293.05 334.46 L292.71 334.59 L292.38 334.71 L292.05 334.84 L291.71 334.97 L291.38 335.10 L291.05 335.23 L290.71 335.36 L290.38 335.49 L290.05 335.63 L289.71 335.76 L289.38 335.90 L289.05 336.04 L288.72 336.18 L288.38 336.32 L288.05 336.46 L287.72 336.60 L287.39 336.74 L287.06 336.89 L286.72 337.03 L286.39 337.18 L286.06 337.33 L285.73 337.48 L285.40 337.63 L285.07 337.79 L284.74 337.94 L284.41 338.09 L284.08 338.25 L283.75 338.41 L283.42 338.57 L283.09 338.73 L282.76 338.89 L282.43 339.05 L282.10 339.21 L281.78 339.38 L281.45 339.54 L281.12 339.71 L280.79 339.88 L280.47 340.05 L280.14 340.22 L279.81 340.39 L279.49 340.57 L279.16 340.74 L278.84 340.92 L278.51 341.09 L278.19 341.27 L277.86 341.45 L277.54 341.63 L277.21 341.81 L276.89 342.00 L276.57 342.18 L276.25 342.37 L275.92 342.55 L275.60 342.74 L275.28 342.93 L274.96 343.12 L274.64 343.31 L274.32 343.50 L274.00 343.70 L273.68 343.89 L273.36 344.09 L273.05 344.28 L272.73 344.48 L272.41 344.68 L272.09 344.88 L271.78 345.08 L271.46 345.29 L271.15 345.49 L270.83 345.70 L270.52 345.90 L270.21 346.11 L269.89 346.32 L269.58 346.53 L269.27 346.74 L268.96 346.95 L268.64 347.17 L268.33 347.38 L268.02 347.60 L267.72 347.82 L267.41 348.03 L267.10 348.25 L266.79 348.47 L266.48 348.69 L266.18 348.92 L265.87 349.14 L265.57 349.37 L265.26 349.59 L264.96 349.82 L264.65 350.05 L264.35 350.28 L264.05 350.51 L263.75 350.74 L263.45 350.97 L263.15 351.21 L262.85 351.44 L262.55 351.68 L262.25 351.91 L261.95 352.15 L261.66 352.39 L261.36 352.63 L261.06 352.87 L260.77 353.12 L260.48 353.36 L260.18 353.61 L259.89 353.85 L259.60 354.10 L259.31 354.35 L259.02 354.60 L258.73 354.85 L258.44 355.10 L258.15 355.35 L257.86 355.60 L257.57 355.86 L257.29 356.11 L257.00 356.37 L256.72 356.63 L256.43 356.89 L256.15 357.14 L255.87 357.41 L255.59 357.67 L255.31 357.93 L255.03 358.19 L254.75 358.46 L254.47 358.73 L254.19 358.99 L253.91 359.26 L253.64 359.53 L253.36 359.80 L253.09 360.07 L252.81 360.34 L252.54 360.61 L252.27 360.89 L252.00 361.16 L251.73 361.44 L251.46 361.72 L251.19 361.99 L250.92 362.27 L250.66 362.55 L250.39 362.83 L250.13 363.12 L249.86 363.40 L249.60 363.68 L249.34 363.97 L249.08 364.25 L248.82 364.54 L248.56 364.83 L248.30 365.12 L248.04 365.41 L247.78 365.70 L247.53 365.99 L247.27 366.28 L247.02 366.57 L246.76 366.87 L246.51 367.16 L246.26 367.46 L246.01 367.76 L245.76 368.06 L245.51 368.35 L245.27 368.65 L245.02 368.95 L244.77 369.26 L244.53 369.56 L244.29 369.86 L244.04 370.17 L243.80 370.47 L243.56 370.78 L243.32 371.08 L243.08 371.39 L242.85 371.70 L242.61 372.01 L242.37 372.32 L242.14 372.63 L241.91 372.94 L241.67 373.26 L241.44 373.57 L241.21 373.89 L240.98 374.20 L240.75 374.52 L240.53 374.83 L240.30 375.15 L240.07 375.47 L239.85 375.79 L239.63 376.11 L239.40 376.43 L239.18 376.75 L238.96 377.08 L238.74 377.40 L238.53 377.73 L238.31 378.05 L238.09 378.38 L237.88 378.70 L237.66 379.03 L237.45 379.36 L237.24 379.69 L237.03 380.02 L236.82 380.35 L236.61 380.68 L236.41 381.01 L236.20 381.35 L236.00 381.68 L235.79 382.01 L235.59 382.35 L235.39 382.69 L235.19 383.02 L234.99 383.36 L234.79 383.70 L234.59 384.04 L234.40 384.38 L234.20 384.72 L234.01 385.06 L233.82 385.40 L233.63 385.74 L233.44 386.08 L233.25 386.43 L233.06 386.77 L232.87 387.12 L232.69 387.46 L232.50 387.81 L232.32 388.16 L232.14 388.50 L231.96 388.85 L231.78 389.20 L231.60 389.55 L231.42 389.90 L231.25 390.25 L231.07 390.61 L230.90 390.96 L230.73 391.31 L230.55 391.66 L230.38 392.02 L230.22 392.37 L230.05 392.73 L229.88 393.08 L229.72 393.44 L229.55 393.80 L229.39 394.16 L229.23 394.51 L229.07 394.87 L228.91 395.23 L228.75 395.59 L228.59 395.95 L228.44 396.31 L228.28 396.68 L228.13 397.04 L227.98 397.40 L227.83 397.76 L227.68 398.13 L227.53 398.49 L227.39 398.86 L227.24 399.22 L227.10 399.59 L226.95 399.96 L226.81 400.32 L226.67 400.69 L226.53 401.06 L226.39 401.43 L226.26 401.80 L226.12 402.17 L225.99 402.54 L225.86 402.91 L225.72 403.28 L225.59 403.65 L225.47 404.02 L225.34 404.39 L225.21 404.77 L225.09 405.14 L224.96 405.51 L224.84 405.89 L224.72 406.26 L224.60 406.64 L224.48 407.01 L224.36 407.39 L224.25 407.77 L224.13 408.14 L224.02 408.52 L223.91 408.90 L223.80 409.27 L223.69 409.65 L223.58 410.03 L223.47 410.41 L223.37 410.79 L223.26 411.17 L223.16 411.55 L223.06 411.93 L222.96 412.31 L222.86 412.69 L222.76 413.08 L222.66 413.46 L222.57 413.84 L222.48 414.22 L222.38 414.61 L222.29 414.99 L222.20 415.37 L222.11 415.76 L222.03 416.14 L221.94 416.52 L221.86 416.91 L221.77 417.30 L221.69 417.68 L221.61 418.07 L221.53 418.45 L221.46 418.84 L221.38 419.23 L221.31 419.61 L221.23 420.00 L221.16 420.39 L221.09 420.77 L221.02 421.16 L220.95 421.55 L220.88 421.94 L220.82 422.33 L220.75 422.72 L220.69 423.10 L220.63 423.49 L220.57 423.88 L220.51 424.27 L220.45 424.66 L220.40 425.05 L220.34 425.44 L220.29 425.83 L220.24 426.22 L220.19 426.61 L220.14 427.01 L220.09 427.40 L220.05 427.79 L220.00 428.18 L219.96 428.57 L219.92 428.96 L219.87 429.35 L219.84 429.75 L219.80 430.14 L219.76 430.53 L219.73 430.92 L219.69 431.32 L219.66 431.71 L219.63 432.10 L219.60 432.49 L219.57 432.89 L219.54 433.28 L219.52 433.67 L219.49 434.07 L219.47 434.46 L219.45 434.85 L219.43 435.25 L219.41 435.64 L219.39 436.03 L219.38 436.43 L219.36 436.82 L219.35 437.21 L219.34 437.61 L219.32 438.00 L219.32 438.39 L219.31 438.79 L219.30 439.18 L219.30 439.58 L219.29 439.97 L219.29 440.36 L219.29 440.76 L219.29 441.15 L219.29 441.54 L219.30 441.94 L219.30 442.33 L219.31 442.73 L219.31 443.12 L219.32 443.51 L219.33 443.91 L219.35 444.30 L219.36 444.69 L219.37 445.09 L219.39 445.48 L219.41 445.87 L219.42 446.27 L219.44 446.66 L219.47 447.05 L219.49 447.44 L219.51 447.84 L219.54 448.23 L219.56 448.62 L219.59 449.02 L219.62 449.41 L219.65 449.80 L219.69 450.19 L219.72 450.58 L219.76 450.98 L219.79 451.37 L219.83 451.76 L219.87 452.15 L219.91 452.54 L219.95 452.93 L220.00 453.32 L220.04 453.71 L220.09 454.10 L220.13 454.49 L220.18 454.88 L220.23 455.27 L220.29 455.66 L220.34 456.05 L220.39 456.44 L220.45 456.83 L220.51 457.22 L220.56 457.61 L220.62 458.00 L220.69 458.39 L220.75 458.78 L220.81 459.16 L220.88 459.55 L220.95 459.94 L221.01 460.32 L221.08 460.71 L221.15 461.10 L221.23 461.48 L221.30 461.87 L221.38 462.26 L221.45 462.64 L221.53 463.03 L221.61 463.41 L221.69 463.80 L221.77 464.18 L221.85 464.56 L221.94 464.95 L222.02 465.33 L222.11 465.71 L222.20 466.10 L222.29 466.48 L222.38 466.86 L222.47 467.24 L222.57 467.62 L222.66 468.00 L222.76 468.38 L222.86 468.76 L222.96 469.14 L223.06 469.52 L223.16 469.90 L223.26 470.28 L223.37 470.66 L223.48 471.04 L223.58 471.41 L223.69 471.79 L223.80 472.17 L223.91 472.54 L224.03 472.92 L224.14 473.30 L224.26 473.67 L224.37 474.04 L224.49 474.42 L224.61 474.79 L224.73 475.17 L224.85 475.54 L224.98 475.91 L225.10 476.28 L225.23 476.65 L225.35 477.02 L225.48 477.39 L225.61 477.76 L225.74 478.13 L225.88 478.50 L226.01 478.87 L226.15 479.24 L226.28 479.61 L226.42 479.97 L226.56 480.34 L226.70 480.71 L226.84 481.07 L226.98 481.44 L227.13 481.80 L227.27 482.16 L227.42 482.53 L227.57 482.89 L227.72 483.25 L227.87 483.61 L228.02 483.97 L228.18 484.34 L228.33 484.70 L228.49 485.05 L228.64 485.41 L228.80 485.77 L228.96 486.13 L229.12 486.49 L229.28 486.84 L229.45 487.20 L229.61 487.55 L229.78 487.91 L229.95 488.26 L230.11 488.61 L230.28 488.97 L230.45 489.32 L230.63 489.67 L230.80 490.02 L230.98 490.37 L231.15 490.72 L231.33 491.07 L231.51 491.42 L231.69 491.77 L231.87 492.11 L232.05 492.46 L232.23 492.80 L232.42 493.15 L232.60 493.49 L232.79 493.84 L232.98 494.18 L233.17 494.52 L233.36 494.86 L233.55 495.20 L233.74 495.54 L233.94 495.88 L234.13 496.22 L234.33 496.56 L234.53 496.90 L234.73 497.23 L234.93 497.57 L235.13 497.90 L235.33 498.24 L235.54 498.57 L235.74 498.90 L235.95 499.23 L236.16 499.57 L236.36 499.90 L236.57 500.22 L236.78 500.55 L237.00 500.88 L237.21 501.21 L237.42 501.54 L237.64 501.86 L237.86 502.19 L238.07 502.51 L238.29 502.83 L238.51 503.16 L238.74 503.48 L238.96 503.80 L239.18 504.12 L239.41 504.44 L239.63 504.75 L239.86 505.07 L240.09 505.39 L240.32 505.70 L240.55 506.02 L240.78 506.33 L241.01 506.65 L241.25 506.96 L241.48 507.27 L241.72 507.58 L241.95 507.89 L242.19 508.20 L242.43 508.51 L242.67 508.82 L242.91 509.12 L243.16 509.43 L243.40 509.73 L243.64 510.03 L243.89 510.34 L244.14 510.64 L244.38 510.94 L244.63 511.24 L244.88 511.54 L245.13 511.84 L245.39 512.13 L245.64 512.43 L245.89 512.73 L246.15 513.02 L246.41 513.31 L246.66 513.61 L246.92 513.90 L247.18 514.19 L247.44 514.48 L247.70 514.77 L247.97 515.05 L248.23 515.34 L248.49 515.63 L248.76 515.91 L249.03 516.19 L249.30 516.48 L249.56 516.76 L249.83 517.04 L250.10 517.32 L250.38 517.60 L250.65 517.88 L250.92 518.15 L251.20 518.43 L251.47 518.70 L251.75 518.98 L252.03 519.25 L252.31 519.52 L252.59 519.79 L252.87 520.06 L253.15 520.33 L253.43 520.60 L253.71 520.86 L254.00 521.13 L254.28 521.39 L254.57 521.66 L254.86 521.92 L255.14 522.18 L255.43 522.44 L255.72 522.70 L256.01 522.96 L256.31 523.22 L256.60 523.47 L256.89 523.73 L257.19 523.98 L257.48 524.23 L257.78 524.49 L258.08 524.74 L258.37 524.98 L258.67 525.23 L258.97 525.48 L259.27 525.73 L259.58 525.97 L259.88 526.22 L260.18 526.46 L260.49 526.70 L260.79 526.94 L261.10 527.18 L261.40 527.42 L261.71 527.66 L262.02 527.89 L262.33 528.13 L262.64 528.36 L262.95 528.59 L263.26 528.82 L263.58 529.05 L263.89 529.28 L264.20 529.51 L264.52 529.74 L264.83 529.96 L265.15 530.19 L265.47 530.41 L265.79 530.63 L266.11 530.85 L266.43 531.07 L266.75 531.29 L267.07 531.51 L267.39 531.73 L267.71 531.94 L268.04 532.16 L268.36 532.37 L268.69 532.58 L269.01 532.79 L269.34 533.00 L269.67 533.21 L270.00 533.41 L270.33 533.62 L270.66 533.82 L270.99 534.03 L271.32 534.23 L271.65 534.43 L271.98 534.63 L272.32 534.83 L272.65 535.02 L272.98 535.22 L273.32 535.41 L273.66 535.61 L273.99 535.80 L274.33 535.99 L274.67 536.18 L275.01 536.37 L275.35 536.55 L275.69 536.74 L276.03 536.92 L276.37 537.11 L276.71 537.29 L277.05 537.47 L277.40 537.65 L277.74 537.83 L278.09 538.00 L278.43 538.18 L278.78 538.35 L279.13 538.53 L279.47 538.70 L279.82 538.87 L280.17 539.04 L280.52 539.20 L280.87 539.37 L281.22 539.54 L281.57 539.70 L281.92 539.86 L282.27 540.02 L282.63 540.18 L282.98 540.34 L283.33 540.50 L283.69 540.66 L284.04 540.81 L284.40 540.96 L284.75 541.12 L285.11 541.27 L285.47 541.42 L285.82 541.57 L286.18 541.71 L286.54 541.86 L286.90 542.00 L287.26 542.15 L287.62 542.29 L287.98 542.43 L288.34 542.57 L288.70 542.70 L289.07 542.84 L289.43 542.97 L289.79 543.11 L290.16 543.24 L290.52 543.37 L290.88 543.50 L291.25 543.63 L291.62 543.76 L291.98 543.88 L292.35 544.01 L292.71 544.13 L293.08 544.25 L293.45 544.37 L293.82 544.49 L294.19 544.61 L294.56 544.72 L294.93 544.84 L295.29 544.95 L295.67 545.06 L296.04 545.17 L296.41 545.28 L296.78 545.39 L297.15 545.49 L297.52 545.60 L297.89 545.70 L298.27 545.81 L298.64 545.91 L299.01 546.01 L299.39 546.10 L299.76 546.20 L300.14 546.30 L300.51 546.39 L300.89 546.48 L301.26 546.57 L301.64 546.66 L302.02 546.75 L302.39 546.84 L302.77 546.92 L303.15 547.01 L303.52 547.09 L303.90 547.17 L304.28 547.25 L304.66 547.33 L305.04 547.41 L305.42 547.48 L305.80 547.56 L306.18 547.63 L306.56 547.70 L306.94 547.77 L307.32 547.84 L307.70 547.91 L308.08 547.97 L308.46 548.04 L308.84 548.10 L309.22 548.16 L309.60 548.22 L309.98 548.28 L310.37 548.34 L310.75 548.39 L311.13 548.45 L311.51 548.50 L311.90 548.55 L312.28 548.60 L312.66 548.65 L313.05 548.70 L313.43 548.74 L313.81 548.79 L314.20 548.83 L314.58 548.87 L314.97 548.91 L315.35 548.95 L315.74 548.99 L316.12 549.02 L316.50 549.06 L316.89 549.09 L317.27 549.12 L317.66 549.15 L318.05 549.18 L318.43 549.21 L318.82 549.23 L319.20 549.26 L319.59 549.28 L319.97 549.30 L320.36 549.32 L320.74 549.34 L321.13 549.36 L321.52 549.37 L321.90 549.39 L322.29 549.40 L322.67 549.41 L323.06 549.42 L323.45 549.43 L323.83 549.44 L324.22 549.44 L324.61 549.45 L324.99 549.45 L325.38 549.45 L325.76 549.45 L326.15 549.45 L326.54 549.45 L326.92 549.44 L327.31 549.44 L327.69 549.43 L328.08 549.42 L328.47 549.41 L328.85 549.40 L329.24 549.39 L329.63 549.37 L330.01 549.35 L330.40 549.34 L330.78 549.32 L331.17 549.30 L331.55 549.28 L331.94 549.25 L332.33 549.23 L332.71 549.20 L333.10 549.17 L333.48 549.15 L333.87 549.12 L334.25 549.08 L334.64 549.05 L335.02 549.02 L335.41 548.98 L335.79 548.94 L336.17 548.90 L336.56 548.86 L336.94 548.82 L337.33 548.78 L337.71 548.73 L338.09 548.69 L338.48 548.64 L338.86 548.59 L339.24 548.54 L339.63 548.49 L340.01 548.43 L340.39 548.38 L340.77 548.32 L341.16 548.26 L341.54 548.20 L341.92 548.14 L342.30 548.08 L342.68 548.02 L343.06 547.95 L343.44 547.89 L343.82 547.82 L344.20 547.75 L344.58 547.68 L344.96 547.61 L345.34 547.53 L345.72 547.46 L346.10 547.38 L346.48 547.30 L346.86 547.23 L347.24 547.15 L347.61 547.06 L347.99 546.98 L348.37 546.89 L348.75 546.81 L349.12 546.72 L349.50 546.63 L349.87 546.54 L350.25 546.45 L350.63 546.36 L351.00 546.26 L351.38 546.17 L351.75 546.07 L352.12 545.97 L352.50 545.87 L352.87 545.77 L353.24 545.66 L353.62 545.56 L353.99 545.45 L354.36 545.35 L354.73 545.24 L355.10 545.13 L355.47 545.02 L355.84 544.90 L356.21 544.79 L356.58 544.67 L356.95 544.56 L357.32 544.44 L357.69 544.32 L358.05 544.20 L358.42 544.07 L358.79 543.95 L359.15 543.82 L359.52 543.70 L359.88 543.57 L360.25 543.44 L360.61 543.31 L360.98 543.18 L361.34 543.04 L361.70 542.91 L362.07 542.77 L362.43 542.63 L362.79 542.49 L363.15 542.35 L363.51 542.21 L363.87 542.07 L364.23 541.92 L364.59 541.78 L364.95 541.63 L365.30 541.48 L365.66 541.33 L366.02 541.18 L366.37 541.03 L366.73 540.87 L367.08 540.72 L367.44 540.56 L367.79 540.40 L368.15 540.25 L368.50 540.09 L368.85 539.92 L369.20 539.76 L369.55 539.60 L369.90 539.43 L370.25 539.26 L370.60 539.09 L370.95 538.92 L371.30 538.75 L371.65 538.58 L371.99 538.41 L372.34 538.23 L372.68 538.05 L373.03 537.88 L373.37 537.70 L373.72 537.52 L374.06 537.34 L374.40 537.15 L374.74 536.97 L375.08 536.78 L375.42 536.60 L375.76 536.41 L376.10 536.22 L376.44 536.03 L376.78 535.84 L377.12 535.64 L377.45 535.45 L377.79 535.25 L378.12 535.06 L378.45 534.86 L378.79 534.66 L379.12 534.46 L379.45 534.25 L379.78 534.05 L380.11 533.85 L380.44 533.64 L380.77 533.43 L381.10 533.23 L381.43 533.02 L381.75 532.81 L382.08 532.59 L382.40 532.38 L382.73 532.17 L383.05 531.95 L383.37 531.73 L383.70 531.52 L384.02 531.30 L384.34 531.08 L384.66 530.85 L384.98 530.63 L385.29 530.41 L385.61 530.18 L385.93 529.95 L386.24 529.73 L386.56 529.50 L386.87 529.27 L387.18 529.04 L387.50 528.80 L387.81 528.57 L388.12 528.34 L388.43 528.10 L388.74 527.86 L389.04 527.62 L389.35 527.38 L389.66 527.14 L389.96 526.90 L390.27 526.66 L390.57 526.41 L390.87 526.17 L391.17 525.92 L391.48 525.68 L391.78 525.43 L392.07 525.18 L392.37 524.93 L392.67 524.67 L392.97 524.42 L393.26 524.17 L393.56 523.91 L393.85 523.65 L394.14 523.40 L394.43 523.14 L394.72 522.88 L395.01 522.62 L395.30 522.35 L395.59 522.09 L395.88 521.83 L396.16 521.56 L396.45 521.30 L396.73 521.03 L397.02 520.76 L397.30 520.49 L397.58 520.22 L397.86 519.95 L398.14 519.67 L398.42 519.40 L398.69 519.12 L398.97 518.85 L399.25 518.57 L399.52 518.29 L399.79 518.01 L400.07 517.73 L400.34 517.45 L400.61 517.17 L400.88 516.89 L401.14 516.60 L401.41 516.32 L401.68 516.03 L401.94 515.74 L402.21 515.46 L402.47 515.17 L402.73 514.88 L402.99 514.58 L403.25 514.29 L403.51 514.00 L403.77 513.71 L404.03 513.41 L404.28 513.11 L404.54 512.82 L404.79 512.52 L405.04 512.22 L405.29 511.92 L405.54 511.62 L405.79 511.32 L406.04 511.01 L406.29 510.71 L406.53 510.40 L406.78 510.10 L407.02 509.79 L407.27 509.48 L407.51 509.18 L407.75 508.87 L407.99 508.56 L408.22 508.25 L408.46 507.93 L408.70 507.62 L408.93 507.31 L409.17 506.99 L409.40 506.68 L409.63 506.36 L409.86 506.04 L410.09 505.72 L410.32 505.40 L410.54 505.08 L410.77 504.76 L410.99 504.44 L411.22 504.12 L411.44 503.80 L411.66 503.47 L411.88 503.15 L412.10 502.82 L412.32 502.49 L412.53 502.17 L412.75 501.84 L412.96 501.51 L413.17 501.18 L413.39 500.85 L413.60 500.52 L413.81 500.18 L414.01 499.85 L414.22 499.52 L414.43 499.18 L414.63 498.85 L414.83 498.51 L415.04 498.17 L415.24 497.84 L415.44 497.50 L415.64 497.16 L415.83 496.82 L416.03 496.48 L416.22 496.14 L416.42 495.79 L416.61 495.45 L416.80 495.11 L416.99 494.76 L417.18 494.42 L417.37 494.07 L417.55 493.72 L417.74 493.38 L417.92 493.03 L418.10 492.68 L418.28 492.33 L418.46 491.98 L418.64 491.63 L418.82 491.28 L419.00 490.93 L419.17 490.57 L419.34 490.22 L419.52 489.87 L419.69 489.51 L419.86 489.16 L420.03 488.80 L420.19 488.44 L420.36 488.09 L420.52 487.73 L420.69 487.37 L420.85 487.01 L421.01 486.65 L421.17 486.29 L421.33 485.93 L421.49 485.57 L421.64 485.21 L421.80 484.84 L421.95 484.48 L422.10 484.12 L422.25 483.75 L422.40 483.39 L422.55 483.02 L422.70 482.66 L422.84 482.29 L422.99 481.92 L423.13 481.55 L423.27 481.19 L423.41 480.82 L423.55 480.45 L423.69 480.08 L423.82 479.71 L423.96 479.34 L424.09 478.97 L424.22 478.59 L424.35 478.22 L424.48 477.85 L424.61 477.47 L424.74 477.10 L424.86 476.73 L424.99 476.35 L425.11 475.98 L425.23 475.60 L425.35 475.22 L425.47 474.85 L425.59 474.47 L425.71 474.09 L425.82 473.72 L425.93 473.34 L426.05 472.96 L426.16 472.58 L426.27 472.20 L426.38 471.82 L426.48 471.44 L426.59 471.06 L426.69 470.68 L426.79 470.30 L426.90 469.91 L427.00 469.53 L427.10 469.15 L427.19 468.77 L427.29 468.38 L427.38 468.00 L427.48 467.61 L427.57 467.23 L427.66 466.84 L427.75 466.46 L427.84 466.07 L427.92 465.69 L428.01 465.30 L428.09 464.92 L428.17 464.53 L428.26 464.14 L428.34 463.75 L428.41 463.37 L428.49 462.98 L428.57 462.59 L428.64 462.20 L428.71 461.81 L428.79 461.42 L428.86 461.04 L428.92 460.65 L428.99 460.26 L429.06 459.87 L429.12 459.48 L429.19 459.08 L429.25 458.69 L429.31 458.30 L429.37 457.91 L429.43 457.52 L429.48 457.13 L429.54 456.74 L429.59 456.35 L429.64 455.95 L429.69 455.56 L429.74 455.17 L429.79 454.78 L429.84 454.38 L429.88 453.99 L429.93 453.60 L429.97 453.20 L430.01 452.81 L430.05 452.42 L430.09 452.02 L430.13 451.63 L430.16 451.23 L430.20 450.84 L430.23 450.44 L430.26 450.05 L430.29 449.66 L430.32 449.26 L430.35 448.87 L430.38 448.47 L430.40 448.08 L430.42 447.68 L430.45 447.29 L430.47 446.89 L430.49 446.50 L430.50 446.10 L430.52 445.70 L430.54 445.31 L430.55 444.91 L430.56 444.52 L430.57 444.12 L430.58 443.73 L430.59 443.33 L430.60 442.94 L430.60 442.54 L430.61 442.14 L430.61 441.75 L430.61 441.35 L430.61 440.96 L430.61 440.56 L430.61 440.17 L430.60 439.77 L430.60 439.38 L430.59 438.98 L430.58 438.58 L430.57 438.19 L430.56 437.79 L430.55 437.40 L430.54 437.00 L430.52 436.61 L430.50 436.21 L430.49 435.82 L430.47 435.42 L430.45 435.03 L430.43 434.63 L430.40 434.24 L430.38 433.84 L430.35 433.45 L430.32 433.05 L430.30 432.66 L430.27 432.27 L430.23 431.87 L430.20 431.48 L430.17 431.08 L430.13 430.69 L430.10 430.30 L430.06 429.90 L430.02 429.51 L429.98 429.12 L429.94 428.73 L429.89 428.33 L429.85 427.94 L429.80 427.55 L429.75 427.16 L429.70 426.76 L429.65 426.37 L429.60 425.98 L429.55 425.59 L429.50 425.20 L429.44 424.81 L429.38 424.42 L429.33 424.03 L429.27 423.64 L429.21 423.25 L429.14 422.86 L429.08 422.47 L429.01 422.08 L428.95 421.69 L428.88 421.30 L428.81 420.91 L428.74 420.52 L428.67 420.14 L428.60 419.75 L428.52 419.36 L428.45 418.97 L428.37 418.59 L428.29 418.20 L428.21 417.82 L428.13 417.43 L428.05 417.04 L427.97 416.66 L427.88 416.27 L427.80 415.89 L427.71 415.51 L427.62 415.12 L427.53 414.74 L427.44 414.36 L427.35 413.97 L427.26 413.59 L427.16 413.21 L427.07 412.83 L426.97 412.45 L426.87 412.07 L426.77 411.69 L426.67 411.31 L426.57 410.93 L426.46 410.55 L426.36 410.17 L426.25 409.79 L426.14 409.41 L426.03 409.03 L425.92 408.66 L425.81 408.28 L425.70 407.90 L425.59 407.53 L425.47 407.15 L425.35 406.78 L425.24 406.40 L425.12 406.03 L425.00 405.66 L424.88 405.28 L424.75 404.91 L424.63 404.54 L424.50 404.17 L424.38 403.80 L424.25 403.43 L424.12 403.05 L423.99 402.69 L423.86 402.32 L423.73 401.95 L423.59 401.58 L423.46 401.21 L423.32 400.84 L423.19 400.48 L423.05 400.11 L422.91 399.75 L422.77 399.38 L422.62 399.02 L422.48 398.65 L422.34 398.29 L422.19 397.93 L422.04 397.57 L421.90 397.20 L421.75 396.84 L421.60 396.48 L421.44 396.12 L421.29 395.76 L421.14 395.41 L420.98 395.05 L420.83 394.69 L420.67 394.33 L420.51 393.98 L420.35 393.62 L420.19 393.27 L420.03 392.91 L419.86 392.56 L419.70 392.21 L419.53 391.85 L419.37 391.50 L419.20 391.15 L419.03 390.80 L418.86 390.45 L418.69 390.10 L418.52 389.75 L418.34 389.40 L418.17 389.06 L417.99 388.71 L417.82 388.36 L417.64 388.02 L417.46 387.67 L417.28 387.33 L417.10 386.99 L416.92 386.64 L416.73 386.30 L416.55 385.96 L416.36 385.62 L416.18 385.28 L415.99 384.94 L415.80 384.61 L415.61 384.27 L415.42 383.93 L415.23 383.60 L415.03 383.26 L414.84 382.93 L414.64 382.59 L414.45 382.26 L414.25 381.93 L414.05 381.60 L413.85 381.26 L413.65 380.93 L413.45 380.61 L413.25 380.28 L413.04 379.95 L412.84 379.62 L412.63 379.30 L412.43 378.97 L412.22 378.65 L412.01 378.32 L411.80 378.00 L411.59 377.68 L411.38 377.36 L411.17 377.04 L410.95 376.72 L410.74 376.40 L410.52 376.08 L410.31 375.76 L410.09 375.45 L409.87 375.13 L409.65 374.82 L409.43 374.50 L409.21 374.19 L408.99 373.88 L408.76 373.57 L408.54 373.26 L408.31 372.95 L408.09 372.64 L407.86 372.33 L407.63 372.02 L407.40 371.72 L407.17 371.41 L406.94 371.11 L406.71 370.80 L406.48 370.50 L406.24 370.20 L406.01 369.90 L405.77 369.60 L405.54 369.30 L405.30 369.00 L405.06 368.71 L404.82 368.41 L404.58 368.11 L404.34 367.82 L404.10 367.53 L403.86 367.23 L403.61 366.94 L403.37 366.65 L403.13 366.36 L402.88 366.07 L402.63 365.78 L402.38 365.50 L402.14 365.21 L401.89 364.93 L401.64 364.64 L401.39 364.36 L401.13 364.08 L400.88 363.80 L400.63 363.51 L400.37 363.24 L400.12 362.96 L399.86 362.68 L399.61 362.40 L399.35 362.13 L399.09 361.85 L398.83 361.58 L398.57 361.31 L398.31 361.04 L398.05 360.77 L397.79 360.50 L397.52 360.23 L397.26 359.96 L397.00 359.69 L396.73 359.43 L396.47 359.16 L396.20 358.90 L395.93 358.64 L395.66 358.38 L395.39 358.11 L395.12 357.86 L394.85 357.60 L394.58 357.34 L394.31 357.08 L394.04 356.83 L393.77 356.57 L393.49 356.32 L393.22 356.07 L392.94 355.82 L392.67 355.57 L392.39 355.32 L392.11 355.07 L391.84 354.82 L391.56 354.58 L391.28 354.33 L391.00 354.09 L390.72 353.84 L390.44 353.60 L390.16 353.36 L389.87 353.12 L389.59 352.88 L389.31 352.65 L389.02 352.41 L388.74 352.18 L388.45 351.94 L388.17 351.71 L387.88 351.48 L387.59 351.24 L387.30 351.01 L387.02 350.79 L386.73 350.56 L386.44 350.33 L386.15 350.11 L385.86 349.88 L385.57 349.66 L385.27 349.44 L384.98 349.21 L384.69 348.99 L384.40 348.78 L384.10 348.56 L383.81 348.34 L383.51 348.13 L383.22 347.91 L382.92 347.70 L382.63 347.49 L382.33 347.27 L382.03 347.06 L381.73 346.86 L381.43 346.65 L381.14 346.44 L380.84 346.24 L380.54 346.03 L380.24 345.83 L379.94 345.63 L379.63 345.43 L379.33 345.23 L379.03 345.03 L378.73 344.83 L378.43 344.63 L378.12 344.44 L377.82 344.24 L377.52 344.05 L377.21 343.86 L376.91 343.67 L376.60 343.48 L376.29 343.29 L375.99 343.10 L375.68 342.92 L375.38 342.73 L375.07 342.55 L374.76 342.36 L374.45 342.18 L374.15 342.00 L373.84 341.82 L373.53 341.65 L373.22 341.47 L372.91 341.29 L372.60 341.12 L372.29 340.95 L371.98 340.77 L371.67 340.60 L371.36 340.43 L371.05 340.26 L370.73 340.10 L370.42 339.93 L370.11 339.76 L369.80 339.60 L369.49 339.44 L369.17 339.28 L368.86 339.12 L368.55 338.96 L368.23 338.80 L367.92 338.64 L367.61 338.49 L367.29 338.33 L366.98 338.18 L366.66 338.03 L366.35 337.87 L366.03 337.73 L365.72 337.58 L365.40 337.43 L365.09 337.28 L364.77 337.14 L364.46 336.99 L364.14 336.85 L363.82 336.71 L363.51 336.57 L363.19 336.43 L362.88 336.29 L362.56 336.16 L362.24 336.02 L361.93 335.89 L361.61 335.75 L361.29 335.62 L360.98 335.49 L360.66 335.36 L360.34 335.23 L360.02 335.10 L359.71 334.98 L359.39 334.85 L359.07 334.73 L358.76 334.61 L358.44 334.48 L358.12 334.36 L357.80 334.25 L357.49 334.13 L357.17 334.01 L356.85 333.90 L356.54 333.78 L356.22 333.67 L355.90 333.56 L355.58 333.45 L355.27 333.34 L354.95 333.23 L354.63 333.12 L354.32 333.02 L354.00 332.91 L353.68 332.81 L353.37 332.70 L353.05 332.60 L352.74 332.50 L352.42 332.40 L352.10 332.31 L351.79 332.21 L351.47 332.12 L351.16 332.02 L350.84 331.93 L350.53 331.84 L350.21 331.75 L349.90 331.66 L349.58 331.57 L349.27 331.48 L348.96 331.40 L348.64 331.31 L348.33 331.23 L348.02 331.15 L347.70 331.06 L347.39 330.98 L347.08 330.91 L346.77 330.83 L346.46 330.75 L346.15 330.68 L345.84 330.60 L345.53 330.53 L345.22 330.46 L344.91 330.39 L344.60 330.32 L344.29 330.25 L343.98 330.18 L343.67 330.12 L343.36 330.05 L343.06 329.99 L342.75 329.92 L342.45 329.86 L342.14 329.80 L341.83 329.74 L341.53 329.69 L341.23 329.63 L340.92 329.57 L340.62 329.52 L340.32 329.46 L340.02 329.41 L339.72 329.36 L339.42 329.31 L339.12 329.26 L338.82 329.21 L338.52 329.17 L338.22 329.12 L337.93 329.08 L337.63 329.03 L337.33 328.99 L337.04 328.95 L336.75 328.91 L336.45 328.87 L336.16 328.83 L335.87 328.80 L335.58 328.76 L335.29 328.73 L335.01 328.69 L334.72 328.66 L334.43 328.63 L334.15 328.60 L333.87 328.57 L333.58 328.54 L333.30 328.51 L333.02 328.49 L332.74 328.46 L332.47 328.44 L332.19 328.41 L331.92 328.39 L331.65 328.37 L331.37 328.35 L331.10 328.33 L330.84 328.31 L330.57 328.30 L330.31 328.28 L330.05 328.27 L329.79 328.25 L329.53 328.24 L329.27 328.23 L329.02 328.22 L328.77 328.20 L328.52 328.20 L328.28 328.19 L328.04 328.18 L327.80 328.17 L327.57 328.17 L327.34 328.16 L327.12 328.16 L326.90 328.16 L326.69 328.15 L326.49 328.15 L326.30 328.15 L326.15 328.15" fill="none" stroke="#00ee00" stroke-width="1.6"/>
<path d="M233.90 387.60 L326.15 328.15 L415.30 386.50" fill="none" stroke="#ff2020" stroke-width="0.90"/>
<path d="M235.30 386.20 L326.15 328.15 L416.60 388.70" fill="none" stroke="#10f010" stroke-width="0.90"/>
<line x1="488.3" y1="533.5" x2="516" y2="533.5" stroke="#ff2030" stroke-width="1.2" stroke-linecap="round"/>
<line x1="488.3" y1="559.5" x2="516" y2="559.5" stroke="#00f000" stroke-width="1.2" stroke-linecap="round"/>
<g><text transform="translate(319.28 326.60) scale(1.1600 1)" font-family="Liberation Sans" font-weight="normal" font-size="20.20" fill="#000">0</text><text transform="translate(312.34 377.81) scale(1.2188 1)" font-family="Liberation Sans" font-weight="normal" font-size="19.77" fill="#000">50</text><text transform="translate(304.61 428.71) scale(1.2626 1)" font-family="Liberation Sans" font-weight="normal" font-size="19.63" fill="#000">100</text><text transform="translate(304.61 479.50) scale(1.2359 1)" font-family="Liberation Sans" font-weight="normal" font-size="20.06" fill="#000">150</text><text transform="translate(304.65 530.30) scale(1.2409 1)" font-family="Liberation Sans" font-weight="normal" font-size="20.06" fill="#000">200</text><text transform="translate(304.75 581.81) scale(1.2618 1)" font-family="Liberation Sans" font-weight="normal" font-size="19.77" fill="#000">250</text><rect x="285.10" y="50.80" width="10.20" height="2.00" fill="#000"/><text transform="translate(298.18 61.13) scale(0.9320 1.1751)" font-family="Liberation Mono" font-weight="normal" font-size="21.53" fill="#000" stroke="#000" stroke-width="0.45">/</text><text transform="translate(311.20 60.01) scale(1.0838 1)" font-family="Liberation Mono" font-weight="normal" font-size="21.53" fill="#000" stroke="#000" stroke-width="0.45">+</text><text transform="translate(325.20 59.00) scale(1.0838 1)" font-family="Liberation Mono" font-weight="normal" font-size="21.53" fill="#000" stroke="#000" stroke-width="0.45">1</text><text transform="translate(339.20 59.00) scale(1.0838 1)" font-family="Liberation Mono" font-weight="normal" font-size="21.53" fill="#000" stroke="#000" stroke-width="0.45">8</text><text transform="translate(353.96 58.80) scale(1.1005 1)" font-family="Liberation Sans" font-weight="normal" font-size="20.34" fill="#000" stroke="#000" stroke-width="0.45">0</text><rect x="141.10" y="85.90" width="10.20" height="2.00" fill="#000"/><text transform="translate(153.20 94.00) scale(1.0990 1)" font-family="Liberation Mono" font-weight="normal" font-size="21.23" fill="#000" stroke="#000" stroke-width="0.45">1</text><text transform="translate(167.20 94.00) scale(1.0990 1)" font-family="Liberation Mono" font-weight="normal" font-size="21.23" fill="#000" stroke="#000" stroke-width="0.45">5</text><text transform="translate(181.96 93.80) scale(1.1160 1)" font-family="Liberation Sans" font-weight="normal" font-size="20.06" fill="#000" stroke="#000" stroke-width="0.45">0</text><text transform="translate(456.90 94.00) scale(1.0990 1)" font-family="Liberation Mono" font-weight="normal" font-size="21.23" fill="#000" stroke="#000" stroke-width="0.45">1</text><text transform="translate(470.90 94.00) scale(1.0990 1)" font-family="Liberation Mono" font-weight="normal" font-size="21.23" fill="#000" stroke="#000" stroke-width="0.45">5</text><text transform="translate(485.66 93.80) scale(1.1160 1)" font-family="Liberation Sans" font-weight="normal" font-size="20.06" fill="#000" stroke="#000" stroke-width="0.45">0</text><rect x="44.80" y="181.70" width="10.20" height="2.00" fill="#000"/><text transform="translate(56.90 189.80) scale(1.0990 1)" font-family="Liberation Mono" font-weight="normal" font-size="21.23" fill="#000" stroke="#000" stroke-width="0.45">1</text><text transform="translate(70.90 189.80) scale(1.0990 1)" font-family="Liberation Mono" font-weight="normal" font-size="21.23" fill="#000" stroke="#000" stroke-width="0.45">2</text><text transform="translate(85.66 189.60) scale(1.1160 1)" font-family="Liberation Sans" font-weight="normal" font-size="20.06" fill="#000" stroke="#000" stroke-width="0.45">0</text><text transform="translate(553.00 189.80) scale(1.0990 1)" font-family="Liberation Mono" font-weight="normal" font-size="21.23" fill="#000" stroke="#000" stroke-width="0.45">1</text><text transform="translate(567.00 189.80) scale(1.0990 1)" font-family="Liberation Mono" font-weight="normal" font-size="21.23" fill="#000" stroke="#000" stroke-width="0.45">2</text><text transform="translate(581.76 189.60) scale(1.1160 1)" font-family="Liberation Sans" font-weight="normal" font-size="20.06" fill="#000" stroke="#000" stroke-width="0.45">0</text><rect x="23.20" y="319.65" width="10.20" height="2.00" fill="#000"/><text transform="translate(35.30 327.90) scale(1.0763 1)" font-family="Liberation Mono" font-weight="normal" font-size="21.68" fill="#000" stroke="#000" stroke-width="0.45">9</text><text transform="translate(50.06 327.70) scale(1.0930 1)" font-family="Liberation Sans" font-weight="normal" font-size="20.48" fill="#000" stroke="#000" stroke-width="0.45">0</text><text transform="translate(588.60 327.90) scale(1.0763 1)" font-family="Liberation Mono" font-weight="normal" font-size="21.68" fill="#000" stroke="#000" stroke-width="0.45">9</text><text transform="translate(603.36 327.70) scale(1.0930 1)" font-family="Liberation Sans" font-weight="normal" font-size="20.48" fill="#000" stroke="#000" stroke-width="0.45">0</text><rect x="59.10" y="470.20" width="10.20" height="2.00" fill="#000"/><text transform="translate(71.20 478.50) scale(1.0689 1)" font-family="Liberation Mono" font-weight="normal" font-size="21.83" fill="#000" stroke="#000" stroke-width="0.45">6</text><text transform="translate(85.96 478.30) scale(1.0855 1)" font-family="Liberation Sans" font-weight="normal" font-size="20.62" fill="#000" stroke="#000" stroke-width="0.45">0</text><text transform="translate(553.00 478.50) scale(1.0689 1)" font-family="Liberation Mono" font-weight="normal" font-size="21.83" fill="#000" stroke="#000" stroke-width="0.45">6</text><text transform="translate(567.76 478.30) scale(1.0855 1)" font-family="Liberation Sans" font-weight="normal" font-size="20.62" fill="#000" stroke="#000" stroke-width="0.45">0</text><rect x="154.90" y="566.45" width="10.20" height="2.00" fill="#000"/><text transform="translate(167.00 574.60) scale(1.0913 1)" font-family="Liberation Mono" font-weight="normal" font-size="21.38" fill="#000" stroke="#000" stroke-width="0.45">3</text><text transform="translate(181.76 574.40) scale(1.1082 1)" font-family="Liberation Sans" font-weight="normal" font-size="20.20" fill="#000" stroke="#000" stroke-width="0.45">0</text><text transform="translate(456.90 574.60) scale(1.0913 1)" font-family="Liberation Mono" font-weight="normal" font-size="21.38" fill="#000" stroke="#000" stroke-width="0.45">3</text><text transform="translate(471.66 574.40) scale(1.1082 1)" font-family="Liberation Sans" font-weight="normal" font-size="20.20" fill="#000" stroke="#000" stroke-width="0.45">0</text><text transform="translate(319.56 609.60) scale(1.0930 1)" font-family="Liberation Sans" font-weight="normal" font-size="20.48" fill="#000" stroke="#000" stroke-width="0.45">0</text><text transform="translate(557.05 510.80) scale(1.0570 1)" font-family="Liberation Serif" font-weight="normal" font-size="16.49" fill="#000" stroke="#000" stroke-width="0.65">U</text><text transform="translate(569.01 510.80) scale(1.0724 1)" font-family="Liberation Serif" font-weight="normal" font-size="16.49" fill="#000" stroke="#000" stroke-width="0.65">N</text><text transform="translate(582.79 510.80) scale(1.7280 1)" font-family="Liberation Serif" font-weight="normal" font-size="16.49" fill="#000" stroke="#000" stroke-width="0.65">I</text><text transform="translate(594.20 510.80) scale(1.0800 1)" font-family="Liberation Serif" font-weight="normal" font-size="16.49" fill="#000" stroke="#000" stroke-width="0.65">T</text><text transform="translate(605.70 511.20) scale(1.1450 1)" font-family="Liberation Mono" font-weight="normal" font-size="17.61" fill="#000" stroke="#000" stroke-width="0.6">:</text><text transform="translate(617.80 511.20) scale(1.1450 1)" font-family="Liberation Mono" font-weight="normal" font-size="17.61" fill="#000" stroke="#000" stroke-width="0.6">c</text><text transform="translate(629.90 511.20) scale(1.1450 1)" font-family="Liberation Mono" font-weight="normal" font-size="17.61" fill="#000" stroke="#000" stroke-width="0.6">d</text><text transform="translate(523.27 536.60) scale(1.1381 1)" font-family="Liberation Mono" font-weight="normal" font-size="17.79" fill="#000" stroke="#000" stroke-width="0.25">C</text><text transform="translate(535.67 536.44) scale(1.2446 1)" font-family="Liberation Sans" font-weight="normal" font-size="16.81" fill="#000" stroke="#000" stroke-width="0.25">0</text><text transform="translate(548.42 538.36) scale(0.9788 1.1751)" font-family="Liberation Mono" font-weight="normal" font-size="17.79" fill="#000" stroke="#000" stroke-width="0.25">/</text><text transform="translate(559.72 536.60) scale(1.1381 1)" font-family="Liberation Mono" font-weight="normal" font-size="17.79" fill="#000" stroke="#000" stroke-width="0.25">1</text><text transform="translate(571.88 536.60) scale(1.1381 1)" font-family="Liberation Mono" font-weight="normal" font-size="17.79" fill="#000" stroke="#000" stroke-width="0.25">8</text><text transform="translate(584.27 536.44) scale(1.2446 1)" font-family="Liberation Sans" font-weight="normal" font-size="16.81" fill="#000" stroke="#000" stroke-width="0.25">0</text><text transform="translate(596.17 536.60) scale(1.1381 1)" font-family="Liberation Mono" font-weight="normal" font-size="17.79" fill="#000" stroke="#000" stroke-width="0.25">,</text><text transform="translate(608.32 536.60) scale(1.1381 1)" font-family="Liberation Mono" font-weight="normal" font-size="17.79" fill="#000" stroke="#000" stroke-width="0.25">1</text><text transform="translate(620.47 536.60) scale(1.1381 1)" font-family="Liberation Mono" font-weight="normal" font-size="17.79" fill="#000" stroke="#000" stroke-width="0.25">1</text><text transform="translate(632.62 536.60) scale(1.1381 1)" font-family="Liberation Mono" font-weight="normal" font-size="17.79" fill="#000" stroke="#000" stroke-width="0.25">3</text><text transform="translate(644.77 536.60) scale(1.1381 1)" font-family="Liberation Mono" font-weight="normal" font-size="17.79" fill="#000" stroke="#000" stroke-width="0.25">.</text><text transform="translate(656.92 536.60) scale(1.1381 1)" font-family="Liberation Mono" font-weight="normal" font-size="17.79" fill="#000" stroke="#000" stroke-width="0.25">6</text><text transform="translate(523.28 563.00) scale(1.1287 1)" font-family="Liberation Mono" font-weight="normal" font-size="17.94" fill="#000" stroke="#000" stroke-width="0.25">C</text><text transform="translate(535.43 563.00) scale(1.1287 1)" font-family="Liberation Mono" font-weight="normal" font-size="17.94" fill="#000" stroke="#000" stroke-width="0.25">9</text><text transform="translate(547.82 562.83) scale(1.2343 1)" font-family="Liberation Sans" font-weight="normal" font-size="16.95" fill="#000" stroke="#000" stroke-width="0.25">0</text><text transform="translate(560.57 564.77) scale(0.9706 1.1751)" font-family="Liberation Mono" font-weight="normal" font-size="17.94" fill="#000" stroke="#000" stroke-width="0.25">/</text><text transform="translate(571.88 563.00) scale(1.1287 1)" font-family="Liberation Mono" font-weight="normal" font-size="17.94" fill="#000" stroke="#000" stroke-width="0.25">2</text><text transform="translate(584.03 563.00) scale(1.1287 1)" font-family="Liberation Mono" font-weight="normal" font-size="17.94" fill="#000" stroke="#000" stroke-width="0.25">7</text><text transform="translate(596.42 562.83) scale(1.2343 1)" font-family="Liberation Sans" font-weight="normal" font-size="16.95" fill="#000" stroke="#000" stroke-width="0.25">0</text><text transform="translate(608.33 563.00) scale(1.1287 1)" font-family="Liberation Mono" font-weight="normal" font-size="17.94" fill="#000" stroke="#000" stroke-width="0.25">,</text><text transform="translate(620.48 563.00) scale(1.1287 1)" font-family="Liberation Mono" font-weight="normal" font-size="17.94" fill="#000" stroke="#000" stroke-width="0.25">1</text><text transform="translate(632.62 563.00) scale(1.1287 1)" font-family="Liberation Mono" font-weight="normal" font-size="17.94" fill="#000" stroke="#000" stroke-width="0.25">1</text><text transform="translate(644.78 563.00) scale(1.1287 1)" font-family="Liberation Mono" font-weight="normal" font-size="17.94" fill="#000" stroke="#000" stroke-width="0.25">3</text><text transform="translate(656.93 563.00) scale(1.1287 1)" font-family="Liberation Mono" font-weight="normal" font-size="17.94" fill="#000" stroke="#000" stroke-width="0.25">.</text><text transform="translate(669.08 563.00) scale(1.1287 1)" font-family="Liberation Mono" font-weight="normal" font-size="17.94" fill="#000" stroke="#000" stroke-width="0.25">5</text><text transform="translate(95.45 627.50) scale(1.0595 1)" font-family="Liberation Serif" font-weight="normal" font-size="18.33" fill="#000" stroke="#000" stroke-width="0.65">A</text><text transform="translate(109.39 627.50) scale(1.0676 1)" font-family="Liberation Serif" font-weight="normal" font-size="18.33" fill="#000" stroke="#000" stroke-width="0.65">V</text><text transform="translate(124.59 627.50) scale(1.0800 1)" font-family="Liberation Serif" font-weight="normal" font-size="18.33" fill="#000" stroke="#000" stroke-width="0.65">E</text><text transform="translate(137.52 627.50) scale(1.0800 1)" font-family="Liberation Serif" font-weight="normal" font-size="18.33" fill="#000" stroke="#000" stroke-width="0.65">R</text><text transform="translate(151.33 627.50) scale(1.0595 1)" font-family="Liberation Serif" font-weight="normal" font-size="18.33" fill="#000" stroke="#000" stroke-width="0.65">A</text><text transform="translate(165.09 627.50) scale(1.0800 1)" font-family="Liberation Serif" font-weight="normal" font-size="18.33" fill="#000" stroke="#000" stroke-width="0.65">G</text><text transform="translate(180.47 627.50) scale(1.0800 1)" font-family="Liberation Serif" font-weight="normal" font-size="18.33" fill="#000" stroke="#000" stroke-width="0.65">E</text><text transform="translate(207.84 627.50) scale(1.0800 1)" font-family="Liberation Serif" font-weight="normal" font-size="18.33" fill="#000" stroke="#000" stroke-width="0.65">B</text><text transform="translate(222.38 627.50) scale(1.0800 1)" font-family="Liberation Serif" font-weight="normal" font-size="18.33" fill="#000" stroke="#000" stroke-width="0.65">E</text><text transform="translate(235.15 627.50) scale(1.0595 1)" font-family="Liberation Serif" font-weight="normal" font-size="18.33" fill="#000" stroke="#000" stroke-width="0.65">A</text><text transform="translate(248.84 627.50) scale(0.8989 1)" font-family="Liberation Serif" font-weight="normal" font-size="18.33" fill="#000" stroke="#000" stroke-width="0.65">M</text><text transform="translate(277.06 627.50) scale(1.0595 1)" font-family="Liberation Serif" font-weight="normal" font-size="18.33" fill="#000" stroke="#000" stroke-width="0.65">A</text><text transform="translate(290.86 627.50) scale(1.0800 1)" font-family="Liberation Serif" font-weight="normal" font-size="18.33" fill="#000" stroke="#000" stroke-width="0.65">N</text><text transform="translate(304.79 627.50) scale(1.0800 1)" font-family="Liberation Serif" font-weight="normal" font-size="18.33" fill="#000" stroke="#000" stroke-width="0.65">G</text><text transform="translate(320.27 627.50) scale(1.0800 1)" font-family="Liberation Serif" font-weight="normal" font-size="18.33" fill="#000" stroke="#000" stroke-width="0.65">L</text><text transform="translate(334.14 627.50) scale(1.0800 1)" font-family="Liberation Serif" font-weight="normal" font-size="18.33" fill="#000" stroke="#000" stroke-width="0.65">E</text><text transform="translate(346.96 628.00) scale(1.1443 1)" font-family="Liberation Mono" font-weight="normal" font-size="20.34" fill="#000" stroke="#000" stroke-width="0.6">(</text><text transform="translate(360.93 628.00) scale(1.1443 1)" font-family="Liberation Mono" font-weight="normal" font-size="20.34" fill="#000" stroke="#000" stroke-width="0.6">5</text><text transform="translate(374.90 628.00) scale(1.1443 1)" font-family="Liberation Mono" font-weight="normal" font-size="20.34" fill="#000" stroke="#000" stroke-width="0.6">0</text><text transform="translate(388.87 628.00) scale(1.1443 1)" font-family="Liberation Mono" font-weight="normal" font-size="20.34" fill="#000" stroke="#000" stroke-width="0.6">%</text><text transform="translate(402.84 628.00) scale(1.1443 1)" font-family="Liberation Mono" font-weight="normal" font-size="20.34" fill="#000" stroke="#000" stroke-width="0.6">)</text><text transform="translate(416.81 628.00) scale(1.1443 1)" font-family="Liberation Mono" font-weight="normal" font-size="20.34" fill="#000" stroke="#000" stroke-width="0.6">:</text><text transform="translate(430.78 628.00) scale(1.1443 1)" font-family="Liberation Mono" font-weight="normal" font-size="20.34" fill="#000" stroke="#000" stroke-width="0.6">1</text><text transform="translate(444.75 628.00) scale(1.1443 1)" font-family="Liberation Mono" font-weight="normal" font-size="20.34" fill="#000" stroke="#000" stroke-width="0.6">1</text><text transform="translate(458.72 628.00) scale(1.1443 1)" font-family="Liberation Mono" font-weight="normal" font-size="20.34" fill="#000" stroke="#000" stroke-width="0.6">3</text><text transform="translate(472.69 628.00) scale(1.1443 1)" font-family="Liberation Mono" font-weight="normal" font-size="20.34" fill="#000" stroke="#000" stroke-width="0.6">.</text><text transform="translate(486.66 628.00) scale(1.1443 1)" font-family="Liberation Mono" font-weight="normal" font-size="20.34" fill="#000" stroke="#000" stroke-width="0.6">5</text><text transform="translate(514.55 627.50) scale(1.0800 1)" font-family="Liberation Serif" font-weight="normal" font-size="18.33" fill="#000" stroke="#000" stroke-width="0.65">D</text><text transform="translate(529.72 627.50) scale(1.0800 1)" font-family="Liberation Serif" font-weight="normal" font-size="18.33" fill="#000" stroke="#000" stroke-width="0.65">E</text><text transform="translate(542.28 627.50) scale(1.0800 1)" font-family="Liberation Serif" font-weight="normal" font-size="18.33" fill="#000" stroke="#000" stroke-width="0.65">G</text></g>
</svg></body></html>
